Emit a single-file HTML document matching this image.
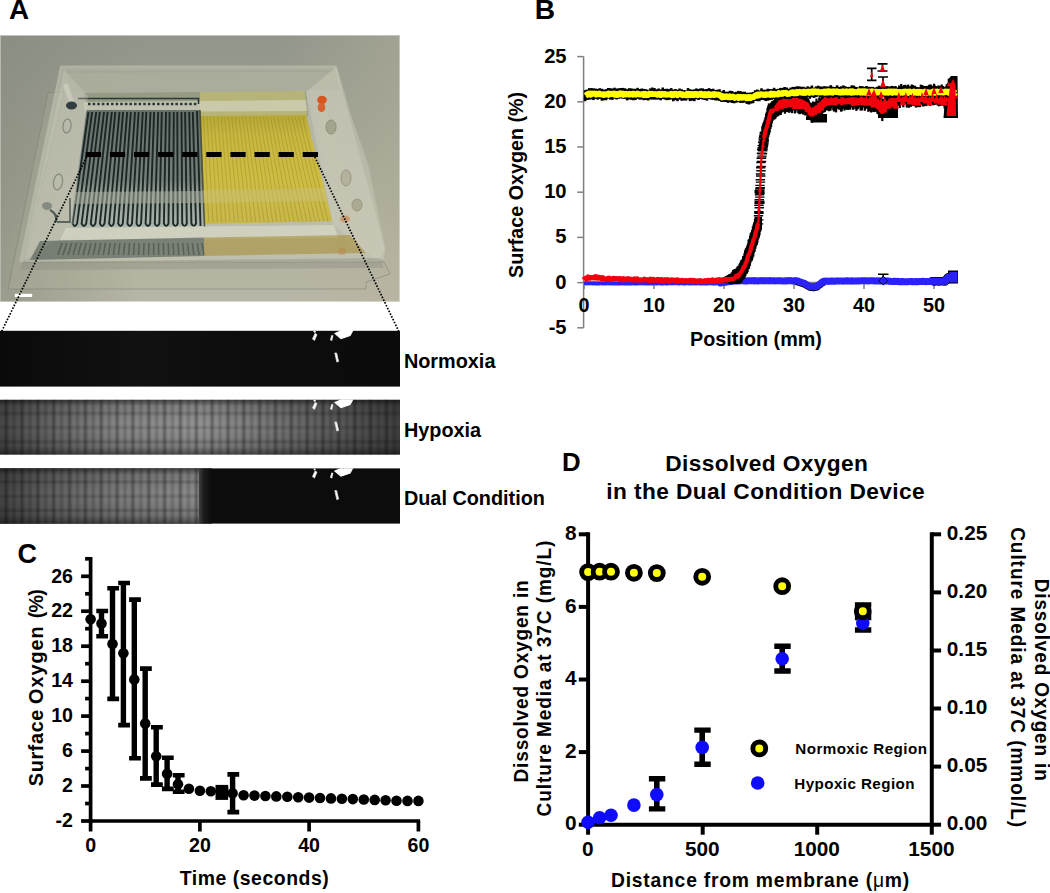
<!DOCTYPE html>
<html><head><meta charset="utf-8"><title>Figure</title>
<style>
html,body{margin:0;padding:0;background:#fff;}
body{width:1050px;height:893px;overflow:hidden;font-family:"Liberation Sans",sans-serif;}
svg{display:block;position:absolute;left:0;top:0;}
text{font-family:"Liberation Sans",sans-serif;font-weight:bold;}
</style></head><body>
<svg width="1050" height="893" viewBox="0 0 1050 893">
<defs>
<clipPath id="pc"><rect x="0" y="35" width="399.5" height="266.5"/></clipPath>
<filter id="bl" x="-5%" y="-5%" width="110%" height="110%"><feGaussianBlur stdDeviation="0.65"/></filter>
<filter id="bl2" x="-10%" y="-10%" width="120%" height="120%"><feGaussianBlur stdDeviation="2.2"/></filter>
<filter id="bl3" x="-20%" y="-20%" width="140%" height="140%"><feGaussianBlur stdDeviation="5"/></filter>
<linearGradient id="pbg" x1="0" y1="0" x2="0" y2="1">
<stop offset="0" stop-color="#92968a"/><stop offset="0.3" stop-color="#9b9e91"/><stop offset="0.6" stop-color="#a8a999"/><stop offset="0.85" stop-color="#b4b3a2"/><stop offset="1" stop-color="#b8b6a5"/></linearGradient>
<linearGradient id="pbgx" x1="0" y1="0" x2="1" y2="0">
<stop offset="0" stop-color="#868a7b" stop-opacity="0.6"/><stop offset="0.35" stop-color="#868a7b" stop-opacity="0"/><stop offset="0.7" stop-color="#b8b49c" stop-opacity="0"/><stop offset="1" stop-color="#b8b49c" stop-opacity="0.4"/></linearGradient>
<linearGradient id="blg" x1="0" y1="0" x2="0" y2="1">
<stop offset="0" stop-color="#66706c"/><stop offset="0.6" stop-color="#75807b"/><stop offset="0.72" stop-color="#99a39b"/><stop offset="0.8" stop-color="#99a39b"/><stop offset="0.85" stop-color="#9fa9a2"/><stop offset="1" stop-color="#adb6ae"/></linearGradient>
<linearGradient id="ylg" x1="0" y1="0" x2="0" y2="1">
<stop offset="0" stop-color="#b6a838"/><stop offset="0.2" stop-color="#c9b840"/><stop offset="0.6" stop-color="#cfbe44"/><stop offset="1" stop-color="#c8b84c"/></linearGradient>
</defs>
<g clip-path="url(#pc)">
<rect x="0" y="35" width="400" height="267" fill="url(#pbg)"/>
<rect x="0" y="35" width="400" height="267" fill="url(#pbgx)"/>
<g filter="url(#bl)">
<polygon points="48,93 64,92 24,262 384,262 390,274 366,282 366,289 8,289" fill="#b4b3a0" fill-opacity="0.25" stroke="#7f8072" stroke-opacity="0.55" stroke-width="1"/>
<polygon points="61,66.5 336,66.5 350,115 367.5,165 385,249 384,258 378,262 20,262" fill="#d0d1c0" fill-opacity="0.4"/>
<polyline points="20,262 61,66.5 336,66.5 350,115 367.5,165 385,249" fill="none" stroke="#b9bba9" stroke-opacity="0.7" stroke-width="2"/>
<polyline points="66,72 334,71" fill="none" stroke="#7d8074" stroke-opacity="0.5" stroke-width="1.5"/>
<polygon points="63,69 335,68.5 340,90 68,93" fill="#a9ab99" fill-opacity="0.75"/>
<polygon points="84,93 306,91 308,116 200,116 200,110 86,110" fill="#959b84"/>
<polygon points="200,92 305,91 307,117 200,117" fill="#bdb878" fill-opacity="0.85"/>
<polygon points="84,102 306,100 307,111 85,112" fill="#d2d3c0" fill-opacity="0.7"/>
<path d="M78,98.5H198.5V104" stroke="#2d3838" stroke-width="1.6" fill="none"/>
<path d="M88,104H197" stroke="#2d3838" stroke-width="2.4" stroke-dasharray="2.6 2" fill="none"/>
<polygon points="86.5,110 200,110 204.5,226.5 70,227.5" fill="url(#blg)"/>
<path d="M88.5,112L72.5,223.5Q74.8,228.5 77.1,223.5L92.1,112M96.2,112L81.6,223.5Q83.9,228.5 86.2,223.5L99.8,112M104.0,112L90.8,223.5Q93.1,228.5 95.4,223.5L107.6,112M111.8,112L99.9,223.5Q102.2,228.5 104.5,223.5L115.3,112M119.5,112L109.1,223.5Q111.4,228.5 113.7,223.5L123.1,112M127.2,112L118.2,223.5Q120.5,228.5 122.8,223.5L130.8,112M135.0,112L127.4,223.5Q129.7,228.5 132.0,223.5L138.6,112M142.8,112L136.5,223.5Q138.8,228.5 141.1,223.5L146.3,112M150.5,112L145.6,223.5Q147.9,228.5 150.2,223.5L154.1,112M158.2,112L154.8,223.5Q157.1,228.5 159.4,223.5L161.8,112M166.0,112L163.9,223.5Q166.2,228.5 168.5,223.5L169.6,112M173.8,112L173.1,223.5Q175.4,228.5 177.7,223.5L177.3,112M181.5,112L182.2,223.5Q184.5,228.5 186.8,223.5L185.1,112M189.2,112L191.4,223.5Q193.7,228.5 196.0,223.5L192.8,112M197.0,111L200.5,226" stroke="#17221f" stroke-width="1.9" stroke-opacity="0.95" fill="none"/>
<polygon points="200,116 306,115 332.5,221 204.5,224" fill="url(#ylg)"/>
<path d="M203.5,117L208.8,222M207.1,117L213.0,222M210.6,117L217.3,222M214.1,117L221.6,222M217.7,117L225.8,222M221.2,117L230.1,222M224.7,117L234.4,222M228.3,117L238.6,222M231.8,117L242.9,222M235.3,117L247.2,222M238.9,117L251.4,222M242.4,117L255.7,222M245.9,117L260.0,222M249.5,117L264.2,222M253.0,117L268.5,222M256.5,117L272.8,222M260.1,117L277.0,222M263.6,117L281.3,222M267.1,117L285.6,222M270.7,117L289.8,222M274.2,117L294.1,222M277.7,117L298.4,222M281.3,117L302.6,222M284.8,117L306.9,222M288.3,117L311.2,222M291.9,117L315.4,222M295.4,117L319.7,222M298.9,117L324.0,222M302.5,117L328.2,222" stroke="#8f7c1e" stroke-width="1.1" stroke-opacity="0.35" fill="none"/>
<path d="M200,110L204.5,227" stroke="#3a4030" stroke-width="1.6" stroke-opacity="0.8"/>
<polygon points="76,192 203,191 203.5,203 74.5,204" fill="#a4aa9a" fill-opacity="0.55"/>
<polygon points="203,190 325,188 328,201 203.5,203" fill="#c9bf78" fill-opacity="0.5"/>
<polygon points="64,70 88,96 72,232 24,260" fill="#d0d0c0" fill-opacity="0.3"/>
<ellipse cx="67" cy="126" rx="4" ry="7" fill="none" stroke="#868a7c" stroke-width="1.2" transform="rotate(8 67 126)"/>
<ellipse cx="58" cy="182" rx="4.5" ry="8" fill="none" stroke="#868a7c" stroke-width="1.2" transform="rotate(10 58 182)"/>
<polygon points="306,92 336,67 385,249 378,262 333,224" fill="#d4d3c2" fill-opacity="0.4"/>
<polygon points="312,112 324,102 368,245 350,250" fill="#c8c7b2" fill-opacity="0.35"/>
<ellipse cx="331" cy="127" rx="5" ry="7" fill="#a4a38c" stroke="#8f8e7a" stroke-width="1"/>
<ellipse cx="346" cy="178" rx="5" ry="8" fill="#b4b29c" stroke="#97957f" stroke-width="1"/>
<ellipse cx="357" cy="205" rx="5" ry="6" fill="#adaa92" stroke="#97957f" stroke-width="1"/>
<ellipse cx="322" cy="100" rx="4.8" ry="4.2" fill="#d8551f"/><ellipse cx="321.5" cy="107.5" rx="3.8" ry="4.5" fill="#d6642e"/>
<ellipse cx="345" cy="219" rx="5" ry="3.5" fill="#c98a58" fill-opacity="0.7"/><ellipse cx="342" cy="251" rx="4" ry="4" fill="#c9906a" fill-opacity="0.6"/>
<path d="M66,86L72,103" stroke="#c6c8b8" stroke-width="5" stroke-linecap="round"/>
<ellipse cx="71.5" cy="105.5" rx="5.5" ry="4" fill="#323c40"/>
<ellipse cx="47" cy="206" rx="5" ry="4" fill="#858b80"/>
<path d="M50,210Q58,214 56,222" stroke="#4b5a54" stroke-width="2.2" fill="none"/>
<path d="M57,222H70V198" stroke="#3f4a48" stroke-width="1.3" fill="none"/>
<polygon points="66,228 334,225 338,238 60,240" fill="#d8d9c8" fill-opacity="0.7"/>
<polygon points="40,241 204,237.5 204,256 30,260" fill="#5c665e" fill-opacity="0.7"/>
<polygon points="204,237.5 350,235 366,253 204,256" fill="#a8903c" fill-opacity="0.6"/>
<path d="M62.0,243L58.0,255M66.8,243L63.0,255M71.7,243L68.1,255M76.5,243L73.1,255M81.3,243L78.1,255M86.1,243L83.2,255M91.0,243L88.2,255M95.8,243L93.2,255M100.6,243L98.3,255M105.4,243L103.3,255M110.3,243L108.3,255M115.1,243L113.4,255M119.9,243L118.4,255M124.8,243L123.4,255M129.6,243L128.5,255M134.4,243L133.5,255M139.2,243L138.6,255M144.1,243L143.6,255M148.9,243L148.6,255M153.7,243L153.7,255M158.6,243L158.7,255M163.4,243L163.7,255M168.2,243L168.8,255M173.0,243L173.8,255M177.9,243L178.8,255M182.7,243L183.9,255M187.5,243L188.9,255M192.3,243L193.9,255M197.2,243L199.0,255M202.0,243L204.0,255" stroke="#2c3834" stroke-width="1.5" stroke-opacity="0.45" fill="none"/>
<polygon points="22,262 380,258 384,268 20,270" fill="#8b8d80" fill-opacity="0.4"/>
</g>
<rect x="0" y="35" width="400" height="1" fill="#c4c4be"/><rect x="0" y="35" width="1" height="267" fill="#b8b8b0"/>
</g>
<path d="M85.8,154.5H318.2" stroke="#000" stroke-width="5" stroke-dasharray="15.25 8.85" fill="none"/>
<rect x="14.8" y="293.8" width="17.4" height="3.2" fill="#fff"/>
<path d="M86.6,157L1.6,331.5M314.8,157L398.6,331" stroke="#000" stroke-width="1.7" stroke-dasharray="1.6 1.5" fill="none"/>
<text x="403.9" y="367.6" font-size="19.85" text-anchor="start" fill="#000" >Normoxia</text>
<text x="403.9" y="437.3" font-size="19.85" text-anchor="start" fill="#000" >Hypoxia</text>
<text x="403.9" y="504.5" font-size="19.85" text-anchor="start" fill="#000" >Dual Condition</text>
<defs>
<filter id="bls" x="-5%" y="-5%" width="110%" height="110%"><feGaussianBlur stdDeviation="1.1"/></filter>
<linearGradient id="hg" x1="0" y1="0" x2="1" y2="0">
<stop offset="0" stop-color="#484848"/><stop offset="0.12" stop-color="#666"/><stop offset="0.3" stop-color="#8a8a8a"/><stop offset="0.5" stop-color="#969696"/><stop offset="0.65" stop-color="#7e7e7e"/><stop offset="0.8" stop-color="#626262"/><stop offset="1" stop-color="#404040"/></linearGradient>
<linearGradient id="dg" x1="0" y1="0" x2="1" y2="0">
<stop offset="0" stop-color="#444"/><stop offset="0.25" stop-color="#626262"/><stop offset="0.6" stop-color="#7e7e7e"/><stop offset="1" stop-color="#8e8e8e"/></linearGradient>
<linearGradient id="vg" x1="0" y1="0" x2="0" y2="1">
<stop offset="0" stop-color="#000" stop-opacity="0.55"/><stop offset="0.12" stop-color="#000" stop-opacity="0.12"/><stop offset="0.5" stop-color="#000" stop-opacity="0"/><stop offset="0.85" stop-color="#000" stop-opacity="0.15"/><stop offset="1" stop-color="#000" stop-opacity="0.5"/></linearGradient>
<linearGradient id="ng" x1="0" y1="0" x2="1" y2="0">
<stop offset="0" stop-color="#0a0a0a"/><stop offset="0.35" stop-color="#111"/><stop offset="0.6" stop-color="#0d0d0d"/><stop offset="1" stop-color="#0b0b0b"/></linearGradient>
<linearGradient id="dk" x1="0" y1="0" x2="1" y2="0"><stop offset="0" stop-color="#484848"/><stop offset="0.4" stop-color="#1c1c1c"/><stop offset="1" stop-color="#0c0c0c"/></linearGradient>
<g id="blobs" filter="url(#bl)"><path d="M335,2.5l9,-4l9,0.5l-3,5.5l-9,3z" fill="#fff" stroke="#fff" stroke-width="1.2"/><path d="M312.5,8l2.5,-5.5l2,1l-2.5,6z" fill="#fff" stroke="#ddd" stroke-width="0.8"/><path d="M330,9l1.5,-5l1.8,0.5l-1.2,5.5z" fill="#eee"/><path d="M313,0l3,0l-1,2.5z" fill="#eee"/><path d="M334.8,22l1.8,0l2,8.5l-1.8,0.5z" fill="#fff" stroke="#ddd" stroke-width="0.8"/></g>
</defs>
<rect x="0" y="330.8" width="400" height="55.8" fill="url(#ng)"/>
<use href="#blobs" x="0" y="331"/>
<clipPath id="c2"><rect x="0" y="399.6" width="400" height="55.2"/></clipPath><g clip-path="url(#c2)">
<rect x="0" y="399.6" width="400" height="55.2" fill="url(#hg)"/>
<path d="M6.2,399.6v55.2M22.0,399.6v55.2M37.9,399.6v55.2M53.7,399.6v55.2M69.6,399.6v55.2M85.4,399.6v55.2M101.2,399.6v55.2M117.1,399.6v55.2M132.9,399.6v55.2M148.8,399.6v55.2M164.6,399.6v55.2M180.4,399.6v55.2M196.3,399.6v55.2M212.1,399.6v55.2M228.0,399.6v55.2M243.8,399.6v55.2M259.6,399.6v55.2M275.5,399.6v55.2M291.3,399.6v55.2M307.2,399.6v55.2M323.0,399.6v55.2M338.8,399.6v55.2M354.7,399.6v55.2M370.5,399.6v55.2M386.4,399.6v55.2" stroke="#000" stroke-opacity="0.42" stroke-width="2.4" fill="none" filter="url(#bls)"/><path d="M14.1,399.6v55.2M30.0,399.6v55.2M45.8,399.6v55.2M61.6,399.6v55.2M77.5,399.6v55.2M93.3,399.6v55.2M109.2,399.6v55.2M125.0,399.6v55.2M140.8,399.6v55.2M156.7,399.6v55.2M172.5,399.6v55.2M188.4,399.6v55.2M204.2,399.6v55.2M220.0,399.6v55.2M235.9,399.6v55.2M251.7,399.6v55.2M267.6,399.6v55.2M283.4,399.6v55.2M299.2,399.6v55.2M315.1,399.6v55.2M330.9,399.6v55.2M346.8,399.6v55.2M362.6,399.6v55.2M378.4,399.6v55.2M394.3,399.6v55.2" stroke="#000" stroke-opacity="0.26" stroke-width="2.2" fill="none" filter="url(#bls)"/><path d="M0,413.4H400M0,427.6H400M0,441.8H400" stroke="#000" stroke-opacity="0.25" stroke-width="2" fill="none" filter="url(#bls)"/>
<rect x="0" y="399.6" width="400" height="55.2" fill="url(#vg)"/>
<use href="#blobs" x="0" y="400"/></g>
<clipPath id="c3"><rect x="0" y="468.2" width="400" height="55.6"/></clipPath><g clip-path="url(#c3)">
<rect x="0" y="468.2" width="400" height="55.6" fill="#0c0c0c"/>
<rect x="198" y="468.2" width="14" height="55.6" fill="url(#dk)"/>
<rect x="0" y="468.2" width="199" height="55.6" fill="url(#dg)"/>
<path d="M6.2,468.2v55.6M22.0,468.2v55.6M37.9,468.2v55.6M53.7,468.2v55.6M69.6,468.2v55.6M85.4,468.2v55.6M101.2,468.2v55.6M117.1,468.2v55.6M132.9,468.2v55.6M148.8,468.2v55.6M164.6,468.2v55.6M180.4,468.2v55.6M196.3,468.2v55.6" stroke="#000" stroke-opacity="0.42" stroke-width="2.4" fill="none" filter="url(#bls)"/><path d="M14.1,468.2v55.6M30.0,468.2v55.6M45.8,468.2v55.6M61.6,468.2v55.6M77.5,468.2v55.6M93.3,468.2v55.6M109.2,468.2v55.6M125.0,468.2v55.6M140.8,468.2v55.6M156.7,468.2v55.6M172.5,468.2v55.6M188.4,468.2v55.6" stroke="#000" stroke-opacity="0.26" stroke-width="2.2" fill="none" filter="url(#bls)"/><path d="M0,482.0H199M0,496.2H199M0,510.4H199" stroke="#000" stroke-opacity="0.25" stroke-width="2" fill="none" filter="url(#bls)"/>
<rect x="0" y="468.2" width="199" height="55.6" fill="url(#vg)"/>
<use href="#blobs" x="0" y="468.6"/></g>
<g stroke="#7f7f7f" stroke-width="1.5" fill="none">
<line x1="583.6" y1="56.6" x2="583.6" y2="327.8"/>
<line x1="584" y1="282.6" x2="955" y2="282.6"/>
<line x1="577.3" y1="327.8" x2="583.6" y2="327.8"/>
<line x1="577.3" y1="282.6" x2="583.6" y2="282.6"/>
<line x1="577.3" y1="237.4" x2="583.6" y2="237.4"/>
<line x1="577.3" y1="192.2" x2="583.6" y2="192.2"/>
<line x1="577.3" y1="147.0" x2="583.6" y2="147.0"/>
<line x1="577.3" y1="101.8" x2="583.6" y2="101.8"/>
<line x1="577.3" y1="56.6" x2="583.6" y2="56.6"/>
<line x1="584.0" y1="282.6" x2="584.0" y2="289.1"/>
<line x1="654.0" y1="282.6" x2="654.0" y2="289.1"/>
<line x1="724.0" y1="282.6" x2="724.0" y2="289.1"/>
<line x1="794.0" y1="282.6" x2="794.0" y2="289.1"/>
<line x1="864.0" y1="282.6" x2="864.0" y2="289.1"/>
<line x1="934.0" y1="282.6" x2="934.0" y2="289.1"/>
</g>
<text x="566.6" y="333.8" font-size="20.2" text-anchor="end" fill="#000" >-5</text>
<text x="566.6" y="288.6" font-size="20.2" text-anchor="end" fill="#000" >0</text>
<text x="566.6" y="243.4" font-size="20.2" text-anchor="end" fill="#000" >5</text>
<text x="566.6" y="198.2" font-size="20.2" text-anchor="end" fill="#000" >10</text>
<text x="566.6" y="153.0" font-size="20.2" text-anchor="end" fill="#000" >15</text>
<text x="566.6" y="107.8" font-size="20.2" text-anchor="end" fill="#000" >20</text>
<text x="566.6" y="62.6" font-size="20.2" text-anchor="end" fill="#000" >25</text>
<text x="584.0" y="312.1" font-size="19.8" text-anchor="middle" fill="#000" >0</text>
<text x="654.0" y="312.1" font-size="19.8" text-anchor="middle" fill="#000" >10</text>
<text x="724.0" y="312.1" font-size="19.8" text-anchor="middle" fill="#000" >20</text>
<text x="794.0" y="312.1" font-size="19.8" text-anchor="middle" fill="#000" >30</text>
<text x="864.0" y="312.1" font-size="19.8" text-anchor="middle" fill="#000" >40</text>
<text x="934.0" y="312.1" font-size="19.8" text-anchor="middle" fill="#000" >50</text>
<text x="756" y="345.8" font-size="19.8" text-anchor="middle" fill="#000" >Position (mm)</text>
<text transform="translate(522.8,185) rotate(-90)" font-size="19.7" text-anchor="middle">Surface Oxygen (%)</text>
<polyline points="931.2,281.5 931.9,281.2 932.6,281.2 933.3,281.3 934.0,281.5 934.7,281.3 935.4,281.4 936.1,281.2 936.8,281.2 937.5,281.2 938.2,281.4 938.9,281.4 939.6,281.4 940.3,281.2 941.0,281.3 941.7,281.3 942.4,281.3 943.1,281.1 943.8,281.4 944.5,281.1 945.2,281.4 945.9,280.4 946.6,279.0 947.3,278.2 948.0,277.3 948.7,277.3 949.4,277.1 950.1,276.9 950.8,276.9 951.5,277.1 952.2,276.8 952.9,276.9 953.6,276.7 954.3,276.8 955.0,276.9" fill="none" stroke="#000" stroke-width="8.5" stroke-linejoin="round" />
<rect x="948" y="270.5" width="10" height="13" fill="#000"/>
<polyline points="796.1,281.4 796.8,281.7 797.5,281.8 798.2,281.8 798.9,282.3 799.6,282.4 800.3,282.7 801.0,283.1 801.7,283.4 802.4,283.4 803.1,283.7 803.8,284.0 804.5,284.2 805.2,284.6 805.9,285.0 806.6,285.6 807.3,285.7 808.0,286.3 808.7,286.7 809.4,286.9 810.1,287.4 810.8,287.5 811.5,287.5 812.2,287.3 812.9,287.7 813.6,287.6 814.3,287.7 815.0,287.3 815.7,287.4 816.4,287.3 817.1,287.0 817.8,286.3 818.5,285.7 819.2,285.3 819.9,284.9 820.6,284.3 821.3,283.6 822.0,283.0 822.7,282.8 823.4,282.1 824.1,282.1 824.8,281.9 825.5,281.8" fill="none" stroke="#000" stroke-width="7.0" stroke-linejoin="round" />
<path d="M878,274.3h10.5M883.2,274.3v5" stroke="#000" stroke-width="1.6" fill="none"/>
<polyline points="584.0,283.3 584.7,283.2 585.4,283.4 586.1,283.2 586.8,283.4 587.5,283.3 588.2,283.2 588.9,283.4 589.6,283.2 590.3,283.3 591.0,283.2 591.7,283.2 592.4,283.3 593.1,283.5 593.8,283.2 594.5,283.3 595.2,283.4 595.9,283.6 596.6,283.4 597.3,283.3 598.0,283.6 598.7,283.2 599.4,283.5 600.1,283.3 600.8,283.2 601.5,283.2 602.2,283.3 602.9,283.5 603.6,283.2 604.3,283.4 605.0,283.4 605.7,283.3 606.4,283.4 607.1,283.2 607.8,283.2 608.5,283.3 609.2,283.4 609.9,283.3 610.6,283.3 611.3,283.4 612.0,283.4 612.7,283.3 613.4,283.5 614.1,283.5 614.8,283.3 615.5,283.4 616.2,283.4 616.9,283.5 617.6,283.5 618.3,283.3 619.0,283.6 619.7,283.2 620.4,283.3 621.1,283.5 621.8,283.2 622.5,283.4 623.2,283.2 623.9,283.4 624.6,283.5 625.3,283.4 626.0,283.5 626.7,283.3 627.4,283.4 628.1,283.4 628.8,283.4 629.5,283.4 630.2,283.5 630.9,283.5 631.6,283.4 632.3,283.4 633.0,283.2 633.7,283.5 634.4,283.4 635.1,283.6 635.8,283.5 636.5,283.3 637.2,283.3 637.9,283.4 638.6,283.2 639.3,283.4 640.0,283.2 640.7,283.2 641.4,283.2 642.1,283.5 642.8,283.2 643.5,283.3 644.2,283.3 644.9,283.5 645.6,283.2 646.3,283.4 647.0,283.4 647.7,283.5 648.4,283.5 649.1,283.5 649.8,283.3 650.5,283.3 651.2,283.3 651.9,283.5 652.6,283.6 653.3,283.2 654.0,283.2 654.7,283.3 655.4,283.3 656.1,283.4 656.8,283.4 657.5,283.3 658.2,283.2 658.9,283.3 659.6,283.3 660.3,283.4 661.0,283.6 661.7,283.4 662.4,283.4 663.1,283.4 663.8,283.4 664.5,283.2 665.2,283.5 665.9,283.5 666.6,283.5 667.3,283.5 668.0,283.3 668.7,283.3 669.4,283.2 670.1,283.4 670.8,283.2 671.5,283.2 672.2,283.3 672.9,283.2 673.6,283.3 674.3,283.2 675.0,283.2 675.7,283.2 676.4,283.2 677.1,283.3 677.8,283.2 678.5,283.5 679.2,283.4 679.9,283.2 680.6,283.3 681.3,283.3 682.0,283.3 682.7,283.2 683.4,283.5 684.1,283.6 684.8,283.4 685.5,283.4 686.2,283.2 686.9,283.2 687.6,283.3 688.3,283.3 689.0,283.5 689.7,283.2 690.4,283.2 691.1,283.6 691.8,283.4 692.5,283.2 693.2,283.4 693.9,283.2 694.6,283.4 695.3,283.6 696.0,283.5 696.7,283.4 697.4,283.3 698.1,283.3 698.8,283.2 699.5,283.5 700.2,283.4 700.9,283.5 701.6,283.3 702.3,283.3 703.0,283.5 703.7,283.6 704.4,283.5 705.1,283.5 705.8,283.5 706.5,283.5 707.2,283.3 707.9,283.4 708.6,283.3 709.3,283.2 710.0,283.2 710.7,283.3 711.4,283.3 712.1,283.4 712.8,283.6 713.5,283.4 714.2,283.5 714.9,283.6 715.6,283.6 716.3,283.3 717.0,283.3 717.7,283.3 718.4,283.2 719.1,283.3 719.8,283.4 720.5,283.5 721.2,283.4 721.9,283.2" fill="none" stroke="#2b22fa" stroke-width="4.0" stroke-linejoin="round" />
<polyline points="718.4,282.7 719.1,282.8 719.8,282.9 720.5,283.0 721.2,282.9 721.9,282.7 722.6,282.6 723.3,282.6 724.0,282.2 724.7,282.3 725.4,282.3 726.1,282.2 726.8,282.0 727.5,281.8 728.2,281.6 728.9,281.7 729.6,281.5 730.3,281.5 731.0,281.5 731.7,281.2 732.4,281.1 733.1,281.2 733.8,281.0 734.5,280.7 735.2,280.6 735.9,280.7 736.6,281.0 737.3,280.9 738.0,280.7 738.7,280.9 739.4,281.0 740.1,280.9 740.8,280.7 741.5,280.8 742.2,280.6 742.9,280.6 743.6,281.0 744.3,280.9 745.0,280.8 745.7,281.0 746.4,280.8 747.1,280.9 747.8,280.9 748.5,280.7 749.2,280.7 749.9,280.7 750.6,280.7 751.3,280.8 752.0,280.7 752.7,280.8 753.4,280.6 754.1,281.0 754.8,280.7 755.5,280.8 756.2,280.8 756.9,281.0 757.6,280.8 758.3,281.0 759.0,280.8 759.7,280.8 760.4,280.8 761.1,280.6 761.8,280.8 762.5,280.7 763.2,280.6 763.9,280.9 764.6,280.7 765.3,280.8 766.0,280.9 766.7,280.8 767.4,280.7 768.1,280.8 768.8,280.8 769.5,280.9 770.2,280.6 770.9,280.8 771.6,280.7 772.3,280.7 773.0,280.9 773.7,280.8 774.4,280.8 775.1,280.9 775.8,281.0 776.5,280.8 777.2,280.8 777.9,280.8 778.6,280.8 779.3,280.9 780.0,280.8 780.7,280.8 781.4,280.8 782.1,281.0 782.8,280.9 783.5,280.9 784.2,281.0 784.9,280.7 785.6,280.8 786.3,281.0 787.0,280.9 787.7,280.6 788.4,280.6 789.1,280.8 789.8,280.6 790.5,280.7 791.2,280.6 791.9,280.9 792.6,280.9 793.3,281.0 794.0,280.7 794.7,280.9 795.4,280.9 796.1,280.6 796.8,280.9 797.5,281.0 798.2,281.0 798.9,281.5 799.6,281.6 800.3,281.9 801.0,282.3 801.7,282.6 802.4,282.6 803.1,282.9 803.8,283.2 804.5,283.4 805.2,283.8 805.9,284.2 806.6,284.8 807.3,284.9 808.0,285.5 808.7,285.9 809.4,286.1 810.1,286.6 810.8,286.7 811.5,286.7 812.2,286.5 812.9,286.9 813.6,286.8 814.3,286.9 815.0,286.5 815.7,286.6 816.4,286.5 817.1,286.2 817.8,285.5 818.5,284.9 819.2,284.5 819.9,284.1 820.6,283.5 821.3,282.8 822.0,282.2 822.7,282.0 823.4,281.3 824.1,281.3 824.8,281.1 825.5,281.0 826.2,281.3 826.9,281.2 827.6,281.0 828.3,281.4 829.0,281.2 829.7,281.3 830.4,281.0 831.1,281.3 831.8,281.0 832.5,281.3 833.2,281.1 833.9,281.1 834.6,281.2 835.3,281.3 836.0,281.0 836.7,281.0 837.4,281.1 838.1,281.0 838.8,280.9 839.5,281.0 840.2,280.9 840.9,281.0 841.6,281.0 842.3,281.0 843.0,281.2 843.7,281.0 844.4,281.0 845.1,280.9 845.8,281.0 846.5,280.8 847.2,280.9 847.9,280.8 848.6,281.1 849.3,281.0 850.0,280.9 850.7,281.0 851.4,281.2 852.1,280.8 852.8,281.1 853.5,280.9 854.2,280.9 854.9,281.1 855.6,280.9 856.3,280.9 857.0,281.0 857.7,281.1 858.4,280.8 859.1,281.0 859.8,281.0 860.5,280.9 861.2,280.8 861.9,280.8 862.6,280.7 863.3,280.7 864.0,280.7 864.7,280.9 865.4,280.7 866.1,280.7 866.8,280.7 867.5,281.0 868.2,281.0 868.9,280.9 869.6,280.7 870.3,280.7 871.0,280.7 871.7,280.8 872.4,280.7 873.1,280.8 873.8,280.8 874.5,281.1 875.2,281.1 875.9,280.9 876.6,280.8 877.3,281.1 878.0,280.9 878.7,280.9 879.4,280.8 880.1,281.0 880.8,281.0 881.5,281.1 882.2,281.0 882.9,281.1 883.6,280.9 884.3,281.0 885.0,281.0 885.7,281.1 886.4,281.0 887.1,281.0 887.8,281.1 888.5,281.1 889.2,281.3 889.9,281.3 890.6,281.4 891.3,281.4 892.0,281.4 892.7,281.5 893.4,281.3 894.1,281.3 894.8,281.6 895.5,281.3 896.2,281.5 896.9,281.5 897.6,281.3 898.3,281.6 899.0,281.7 899.7,281.6 900.4,281.6 901.1,281.7 901.8,281.4 902.5,281.6 903.2,281.6 903.9,281.8 904.6,281.8 905.3,281.8 906.0,281.7 906.7,281.8 907.4,281.8 908.1,281.7 908.8,281.6 909.5,281.5 910.2,281.5 910.9,281.6 911.6,281.5 912.3,281.8 913.0,281.6 913.7,281.7 914.4,281.6 915.1,281.7 915.8,281.6 916.5,281.4 917.2,281.7 917.9,281.7 918.6,281.6 919.3,281.6 920.0,281.6 920.7,281.4 921.4,281.6 922.1,281.4 922.8,281.3 923.5,281.4 924.2,281.6 924.9,281.4 925.6,281.6 926.3,281.7 927.0,281.5 927.7,281.4 928.4,281.4 929.1,281.5 929.8,281.5 930.5,281.5 931.2,281.5 931.9,281.2 932.6,281.2 933.3,281.3 934.0,281.5 934.7,281.3 935.4,281.4 936.1,281.2 936.8,281.2 937.5,281.2 938.2,281.4 938.9,281.4 939.6,281.4 940.3,281.2 941.0,281.3 941.7,281.3 942.4,281.3 943.1,281.1 943.8,281.4 944.5,281.1 945.2,281.4 945.9,280.4 946.6,279.0 947.3,278.2 948.0,277.3 948.7,277.3 949.4,277.1 950.1,276.9 950.8,276.9 951.5,277.1 952.2,276.8 952.9,276.9 953.6,276.7 954.3,276.8 955.0,276.9" fill="none" stroke="#2b22fa" stroke-width="7.0" stroke-linejoin="round" />
<rect x="949.5" y="272" width="8" height="10.5" fill="#2b22fa"/>
<path d="M883.2,276l4.5,5l-4.5,4l-4.5,-4z" fill="#2b22fa" stroke="#000" stroke-width="0.8"/>
<rect x="722.4" y="277.6" width="7.5" height="3.6" fill="#000"/>
<rect x="723.0" y="278.0" width="7.5" height="4.2" fill="#000"/>
<rect x="723.8" y="277.7" width="7.5" height="4.9" fill="#000"/>
<rect x="724.5" y="276.2" width="7.5" height="5.5" fill="#000"/>
<rect x="725.1" y="276.0" width="7.5" height="6.1" fill="#000"/>
<rect x="725.9" y="276.4" width="7.5" height="6.8" fill="#000"/>
<rect x="726.5" y="275.1" width="7.5" height="7.4" fill="#000"/>
<rect x="727.2" y="275.0" width="7.5" height="8.0" fill="#000"/>
<rect x="728.0" y="274.5" width="7.5" height="8.7" fill="#000"/>
<rect x="728.6" y="274.1" width="7.5" height="9.3" fill="#000"/>
<rect x="729.4" y="273.9" width="7.5" height="9.9" fill="#000"/>
<rect x="730.0" y="273.5" width="7.5" height="10.6" fill="#000"/>
<rect x="730.8" y="272.4" width="7.5" height="11.2" fill="#000"/>
<rect x="731.5" y="271.6" width="7.5" height="11.8" fill="#000"/>
<rect x="732.1" y="269.9" width="7.5" height="12.5" fill="#000"/>
<rect x="732.9" y="270.8" width="7.5" height="13.0" fill="#000"/>
<rect x="733.5" y="269.0" width="7.5" height="13.0" fill="#000"/>
<rect x="734.2" y="270.0" width="7.5" height="13.0" fill="#000"/>
<rect x="735.0" y="269.4" width="7.5" height="13.0" fill="#000"/>
<rect x="735.6" y="267.8" width="7.5" height="13.0" fill="#000"/>
<rect x="736.4" y="266.6" width="7.5" height="13.0" fill="#000"/>
<rect x="737.0" y="266.1" width="7.5" height="13.0" fill="#000"/>
<rect x="737.8" y="265.6" width="7.5" height="13.0" fill="#000"/>
<rect x="738.5" y="263.7" width="7.5" height="13.0" fill="#000"/>
<rect x="739.1" y="262.7" width="7.5" height="13.0" fill="#000"/>
<rect x="739.9" y="260.5" width="7.5" height="13.0" fill="#000"/>
<rect x="740.5" y="260.6" width="7.5" height="13.0" fill="#000"/>
<rect x="741.2" y="259.2" width="7.5" height="13.0" fill="#000"/>
<rect x="742.0" y="256.2" width="7.5" height="13.0" fill="#000"/>
<rect x="742.6" y="255.7" width="7.5" height="13.0" fill="#000"/>
<rect x="743.4" y="253.0" width="7.5" height="13.0" fill="#000"/>
<rect x="744.0" y="250.2" width="7.5" height="13.0" fill="#000"/>
<rect x="744.8" y="248.3" width="7.5" height="13.0" fill="#000"/>
<rect x="745.5" y="247.6" width="7.5" height="13.0" fill="#000"/>
<rect x="746.1" y="245.6" width="7.5" height="13.0" fill="#000"/>
<rect x="746.9" y="243.5" width="7.5" height="13.0" fill="#000"/>
<rect x="747.5" y="239.8" width="7.5" height="13.0" fill="#000"/>
<rect x="748.2" y="238.8" width="7.5" height="13.0" fill="#000"/>
<rect x="749.0" y="235.7" width="7.5" height="13.0" fill="#000"/>
<rect x="749.6" y="233.2" width="7.5" height="13.0" fill="#000"/>
<rect x="750.4" y="232.0" width="7.5" height="13.0" fill="#000"/>
<rect x="751.0" y="229.9" width="7.5" height="13.0" fill="#000"/>
<rect x="751.8" y="226.4" width="7.5" height="13.0" fill="#000"/>
<rect x="752.5" y="224.4" width="7.5" height="13.0" fill="#000"/>
<rect x="753.1" y="222.3" width="7.5" height="13.0" fill="#000"/>
<rect x="753.9" y="218.7" width="7.5" height="13.0" fill="#000"/>
<rect x="754.5" y="216.8" width="7.5" height="13.0" fill="#000"/>
<rect x="761.4" y="126.2" width="6.5" height="15.4" fill="#000"/>
<rect x="761.7" y="126.1" width="6.5" height="15.4" fill="#000"/>
<rect x="761.9" y="125.1" width="6.5" height="15.4" fill="#000"/>
<rect x="762.2" y="123.2" width="6.5" height="15.4" fill="#000"/>
<rect x="762.9" y="121.7" width="6.5" height="15.4" fill="#000"/>
<rect x="763.6" y="119.5" width="6.5" height="15.4" fill="#000"/>
<rect x="764.3" y="117.1" width="6.5" height="15.4" fill="#000"/>
<rect x="765.0" y="113.7" width="6.5" height="15.4" fill="#000"/>
<rect x="765.7" y="111.7" width="6.5" height="15.4" fill="#000"/>
<rect x="766.4" y="108.0" width="6.5" height="15.4" fill="#000"/>
<rect x="767.1" y="105.7" width="6.5" height="15.4" fill="#000"/>
<rect x="767.8" y="103.4" width="6.5" height="15.4" fill="#000"/>
<rect x="768.5" y="104.1" width="6.5" height="15.4" fill="#000"/>
<rect x="769.2" y="103.9" width="6.5" height="15.4" fill="#000"/>
<rect x="769.9" y="103.3" width="6.5" height="15.4" fill="#000"/>
<rect x="770.6" y="102.0" width="6.5" height="15.4" fill="#000"/>
<rect x="771.3" y="101.0" width="6.5" height="15.4" fill="#000"/>
<rect x="772.0" y="100.9" width="6.5" height="15.4" fill="#000"/>
<rect x="772.7" y="100.7" width="6.5" height="15.4" fill="#000"/>
<rect x="773.4" y="99.9" width="6.5" height="15.4" fill="#000"/>
<rect x="774.1" y="98.9" width="6.5" height="15.4" fill="#000"/>
<rect x="774.8" y="98.2" width="6.5" height="15.4" fill="#000"/>
<rect x="775.5" y="97.5" width="6.5" height="15.4" fill="#000"/>
<rect x="776.2" y="96.8" width="6.5" height="15.4" fill="#000"/>
<rect x="779.0" y="95.5" width="2.2" height="16.4" fill="#000"/>
<rect x="779.7" y="97.0" width="2.2" height="18.0" fill="#000"/>
<rect x="780.4" y="92.7" width="2.2" height="18.0" fill="#000"/>
<rect x="781.1" y="96.1" width="2.2" height="16.3" fill="#000"/>
<rect x="781.8" y="93.2" width="2.2" height="18.2" fill="#000"/>
<rect x="782.5" y="94.2" width="2.2" height="17.5" fill="#000"/>
<rect x="783.2" y="93.0" width="2.2" height="16.0" fill="#000"/>
<rect x="783.9" y="94.1" width="2.2" height="19.6" fill="#000"/>
<rect x="784.6" y="95.5" width="2.2" height="16.5" fill="#000"/>
<rect x="785.3" y="95.7" width="2.2" height="16.0" fill="#000"/>
<rect x="786.0" y="96.3" width="2.2" height="15.8" fill="#000"/>
<rect x="786.7" y="91.2" width="2.2" height="18.3" fill="#000"/>
<rect x="787.4" y="92.3" width="2.2" height="19.3" fill="#000"/>
<rect x="788.1" y="93.9" width="2.2" height="18.9" fill="#000"/>
<rect x="788.8" y="94.4" width="2.2" height="17.2" fill="#000"/>
<rect x="789.5" y="91.5" width="2.2" height="16.6" fill="#000"/>
<rect x="790.2" y="94.8" width="2.2" height="15.4" fill="#000"/>
<rect x="790.9" y="94.8" width="2.2" height="18.3" fill="#000"/>
<rect x="791.6" y="91.9" width="2.2" height="17.9" fill="#000"/>
<rect x="792.3" y="93.3" width="2.2" height="17.0" fill="#000"/>
<rect x="793.0" y="90.8" width="2.2" height="18.3" fill="#000"/>
<rect x="793.7" y="96.1" width="2.2" height="17.4" fill="#000"/>
<rect x="794.4" y="93.0" width="2.2" height="19.6" fill="#000"/>
<rect x="795.1" y="91.6" width="2.2" height="18.7" fill="#000"/>
<rect x="795.8" y="92.6" width="2.2" height="16.5" fill="#000"/>
<rect x="796.5" y="90.8" width="2.2" height="19.5" fill="#000"/>
<rect x="797.2" y="97.7" width="2.2" height="15.6" fill="#000"/>
<rect x="797.9" y="95.5" width="2.2" height="17.8" fill="#000"/>
<rect x="798.6" y="97.0" width="2.2" height="17.2" fill="#000"/>
<rect x="799.3" y="97.3" width="2.2" height="16.4" fill="#000"/>
<rect x="800.0" y="93.7" width="2.2" height="15.6" fill="#000"/>
<rect x="800.7" y="94.5" width="2.2" height="18.9" fill="#000"/>
<rect x="801.4" y="94.6" width="2.2" height="15.4" fill="#000"/>
<rect x="802.1" y="96.7" width="2.2" height="17.9" fill="#000"/>
<rect x="802.8" y="93.4" width="2.2" height="19.6" fill="#000"/>
<rect x="803.5" y="97.8" width="2.2" height="16.0" fill="#000"/>
<rect x="804.2" y="99.2" width="2.2" height="16.3" fill="#000"/>
<rect x="804.9" y="96.1" width="2.2" height="18.1" fill="#000"/>
<rect x="805.6" y="96.0" width="2.2" height="17.7" fill="#000"/>
<rect x="806.3" y="100.8" width="2.2" height="18.3" fill="#000"/>
<rect x="807.0" y="98.3" width="2.2" height="19.0" fill="#000"/>
<rect x="807.7" y="100.2" width="2.2" height="16.2" fill="#000"/>
<rect x="808.4" y="102.7" width="2.2" height="16.8" fill="#000"/>
<rect x="809.1" y="102.5" width="2.2" height="16.7" fill="#000"/>
<rect x="809.8" y="104.8" width="2.2" height="15.6" fill="#000"/>
<rect x="810.5" y="103.2" width="2.2" height="19.4" fill="#000"/>
<rect x="811.2" y="103.6" width="2.2" height="18.9" fill="#000"/>
<rect x="811.9" y="101.4" width="2.2" height="18.6" fill="#000"/>
<rect x="812.6" y="102.3" width="2.2" height="15.4" fill="#000"/>
<rect x="813.3" y="102.3" width="2.2" height="19.2" fill="#000"/>
<rect x="814.0" y="103.2" width="2.2" height="18.7" fill="#000"/>
<rect x="814.7" y="101.6" width="2.2" height="17.5" fill="#000"/>
<rect x="815.4" y="98.6" width="2.2" height="18.7" fill="#000"/>
<rect x="816.1" y="101.5" width="2.2" height="17.4" fill="#000"/>
<rect x="816.8" y="100.9" width="2.2" height="16.4" fill="#000"/>
<rect x="817.5" y="101.3" width="2.2" height="15.8" fill="#000"/>
<rect x="818.2" y="97.3" width="2.2" height="16.4" fill="#000"/>
<rect x="818.9" y="98.3" width="2.2" height="15.5" fill="#000"/>
<rect x="819.6" y="99.5" width="2.2" height="16.9" fill="#000"/>
<rect x="820.3" y="97.6" width="2.2" height="18.8" fill="#000"/>
<rect x="821.0" y="95.4" width="2.2" height="18.5" fill="#000"/>
<rect x="821.7" y="93.5" width="2.2" height="19.2" fill="#000"/>
<rect x="822.4" y="92.5" width="2.2" height="18.6" fill="#000"/>
<rect x="823.1" y="95.8" width="2.2" height="16.6" fill="#000"/>
<rect x="823.8" y="94.0" width="2.2" height="17.9" fill="#000"/>
<rect x="824.5" y="90.7" width="2.2" height="17.3" fill="#000"/>
<rect x="825.2" y="91.4" width="2.2" height="18.9" fill="#000"/>
<rect x="825.9" y="92.7" width="2.2" height="17.7" fill="#000"/>
<rect x="826.6" y="93.1" width="2.2" height="16.6" fill="#000"/>
<rect x="827.3" y="88.7" width="2.2" height="18.3" fill="#000"/>
<rect x="828.0" y="91.5" width="2.2" height="19.7" fill="#000"/>
<rect x="828.7" y="91.8" width="2.2" height="16.3" fill="#000"/>
<rect x="829.4" y="91.4" width="2.2" height="19.3" fill="#000"/>
<rect x="830.1" y="93.0" width="2.2" height="15.4" fill="#000"/>
<rect x="830.8" y="90.0" width="2.2" height="16.5" fill="#000"/>
<rect x="831.5" y="89.3" width="2.2" height="16.4" fill="#000"/>
<rect x="832.2" y="91.5" width="2.2" height="18.7" fill="#000"/>
<rect x="832.9" y="92.0" width="2.2" height="19.6" fill="#000"/>
<rect x="833.6" y="89.5" width="2.2" height="18.7" fill="#000"/>
<rect x="834.3" y="93.3" width="2.2" height="16.8" fill="#000"/>
<rect x="835.0" y="93.1" width="2.2" height="19.3" fill="#000"/>
<rect x="835.7" y="89.4" width="2.2" height="16.9" fill="#000"/>
<rect x="836.4" y="92.2" width="2.2" height="16.4" fill="#000"/>
<rect x="837.1" y="88.5" width="2.2" height="19.5" fill="#000"/>
<rect x="837.8" y="91.4" width="2.2" height="18.2" fill="#000"/>
<rect x="838.5" y="88.6" width="2.2" height="18.5" fill="#000"/>
<rect x="839.2" y="90.9" width="2.2" height="18.4" fill="#000"/>
<rect x="839.9" y="91.8" width="2.2" height="19.8" fill="#000"/>
<rect x="840.6" y="93.8" width="2.2" height="17.5" fill="#000"/>
<rect x="841.3" y="90.0" width="2.2" height="19.2" fill="#000"/>
<rect x="842.0" y="89.8" width="2.2" height="18.5" fill="#000"/>
<rect x="842.7" y="88.0" width="2.2" height="19.2" fill="#000"/>
<rect x="843.4" y="93.3" width="2.2" height="17.3" fill="#000"/>
<rect x="844.1" y="89.8" width="2.2" height="18.6" fill="#000"/>
<rect x="844.8" y="91.5" width="2.2" height="17.9" fill="#000"/>
<rect x="845.5" y="91.3" width="2.2" height="16.8" fill="#000"/>
<rect x="846.2" y="93.4" width="2.2" height="16.3" fill="#000"/>
<rect x="846.9" y="91.7" width="2.2" height="18.2" fill="#000"/>
<rect x="847.6" y="91.7" width="2.2" height="15.7" fill="#000"/>
<rect x="848.3" y="87.6" width="2.2" height="19.5" fill="#000"/>
<rect x="849.0" y="93.7" width="2.2" height="16.0" fill="#000"/>
<rect x="849.7" y="91.9" width="2.2" height="15.5" fill="#000"/>
<rect x="850.4" y="89.9" width="2.2" height="15.9" fill="#000"/>
<rect x="851.1" y="87.2" width="2.2" height="19.6" fill="#000"/>
<rect x="851.8" y="92.7" width="2.2" height="16.9" fill="#000"/>
<rect x="852.5" y="93.5" width="2.2" height="16.0" fill="#000"/>
<rect x="853.2" y="89.3" width="2.2" height="15.5" fill="#000"/>
<rect x="853.9" y="89.0" width="2.2" height="15.6" fill="#000"/>
<rect x="854.6" y="90.2" width="2.2" height="18.5" fill="#000"/>
<rect x="855.3" y="92.7" width="2.2" height="18.2" fill="#000"/>
<rect x="856.0" y="87.8" width="2.2" height="18.5" fill="#000"/>
<rect x="856.7" y="90.6" width="2.2" height="18.7" fill="#000"/>
<rect x="857.4" y="89.3" width="2.2" height="15.7" fill="#000"/>
<rect x="858.1" y="89.6" width="2.2" height="18.0" fill="#000"/>
<rect x="858.8" y="89.0" width="2.2" height="17.0" fill="#000"/>
<rect x="859.5" y="91.5" width="2.2" height="19.1" fill="#000"/>
<rect x="860.2" y="88.1" width="2.2" height="19.1" fill="#000"/>
<rect x="860.9" y="91.0" width="2.2" height="19.4" fill="#000"/>
<rect x="861.6" y="91.8" width="2.2" height="15.7" fill="#000"/>
<rect x="862.3" y="87.6" width="2.2" height="19.3" fill="#000"/>
<rect x="863.0" y="87.6" width="2.2" height="19.5" fill="#000"/>
<rect x="863.7" y="91.2" width="2.2" height="19.6" fill="#000"/>
<rect x="864.4" y="93.1" width="2.2" height="15.9" fill="#000"/>
<rect x="865.1" y="92.1" width="2.2" height="16.3" fill="#000"/>
<rect x="865.8" y="91.8" width="2.2" height="15.9" fill="#000"/>
<rect x="866.5" y="92.9" width="2.2" height="15.5" fill="#000"/>
<rect x="867.2" y="92.6" width="2.2" height="19.2" fill="#000"/>
<rect x="867.9" y="92.2" width="2.2" height="19.0" fill="#000"/>
<rect x="868.6" y="90.2" width="2.2" height="18.2" fill="#000"/>
<rect x="869.3" y="89.0" width="2.2" height="19.1" fill="#000"/>
<rect x="870.0" y="94.3" width="2.2" height="18.2" fill="#000"/>
<rect x="870.7" y="92.4" width="2.2" height="16.7" fill="#000"/>
<rect x="871.4" y="92.0" width="2.2" height="15.8" fill="#000"/>
<rect x="872.1" y="96.1" width="2.2" height="15.8" fill="#000"/>
<rect x="872.8" y="90.4" width="2.2" height="18.8" fill="#000"/>
<rect x="873.5" y="95.8" width="2.2" height="16.3" fill="#000"/>
<rect x="874.2" y="93.6" width="2.2" height="16.8" fill="#000"/>
<rect x="874.9" y="94.3" width="2.2" height="17.3" fill="#000"/>
<rect x="875.6" y="95.5" width="2.2" height="15.5" fill="#000"/>
<rect x="876.3" y="97.3" width="2.2" height="16.5" fill="#000"/>
<rect x="877.0" y="97.3" width="2.2" height="16.6" fill="#000"/>
<rect x="877.7" y="96.1" width="2.2" height="18.6" fill="#000"/>
<rect x="878.4" y="98.4" width="2.2" height="17.0" fill="#000"/>
<rect x="879.1" y="97.9" width="2.2" height="16.8" fill="#000"/>
<rect x="879.8" y="98.2" width="2.2" height="19.7" fill="#000"/>
<rect x="880.5" y="100.0" width="2.2" height="17.6" fill="#000"/>
<rect x="881.2" y="101.9" width="2.2" height="19.2" fill="#000"/>
<rect x="881.9" y="98.6" width="2.2" height="18.2" fill="#000"/>
<rect x="882.6" y="100.0" width="2.2" height="15.5" fill="#000"/>
<rect x="883.3" y="99.9" width="2.2" height="17.2" fill="#000"/>
<rect x="884.0" y="96.3" width="2.2" height="17.3" fill="#000"/>
<rect x="884.7" y="94.8" width="2.2" height="18.9" fill="#000"/>
<rect x="885.4" y="96.9" width="2.2" height="16.9" fill="#000"/>
<rect x="886.1" y="97.0" width="2.2" height="18.6" fill="#000"/>
<rect x="886.8" y="95.1" width="2.2" height="17.8" fill="#000"/>
<rect x="887.5" y="97.2" width="2.2" height="16.3" fill="#000"/>
<rect x="888.2" y="95.0" width="2.2" height="19.3" fill="#000"/>
<rect x="888.9" y="94.4" width="2.2" height="15.8" fill="#000"/>
<rect x="889.6" y="93.9" width="2.2" height="19.1" fill="#000"/>
<rect x="890.3" y="92.7" width="2.2" height="16.1" fill="#000"/>
<rect x="891.0" y="92.0" width="2.2" height="15.4" fill="#000"/>
<rect x="891.7" y="93.4" width="2.2" height="16.3" fill="#000"/>
<rect x="892.4" y="88.2" width="2.2" height="18.8" fill="#000"/>
<rect x="893.1" y="90.0" width="2.2" height="19.8" fill="#000"/>
<rect x="893.8" y="88.0" width="2.2" height="15.4" fill="#000"/>
<rect x="894.5" y="86.1" width="2.2" height="17.6" fill="#000"/>
<rect x="895.2" y="87.5" width="2.2" height="17.6" fill="#000"/>
<rect x="895.9" y="89.3" width="2.2" height="19.0" fill="#000"/>
<rect x="896.6" y="88.3" width="2.2" height="16.2" fill="#000"/>
<rect x="897.3" y="88.2" width="2.2" height="17.6" fill="#000"/>
<rect x="898.0" y="85.5" width="2.2" height="16.9" fill="#000"/>
<rect x="898.7" y="88.8" width="2.2" height="19.1" fill="#000"/>
<rect x="899.4" y="86.2" width="2.2" height="16.5" fill="#000"/>
<rect x="900.1" y="83.9" width="2.2" height="19.6" fill="#000"/>
<rect x="900.8" y="86.8" width="2.2" height="16.7" fill="#000"/>
<rect x="901.5" y="86.5" width="2.2" height="16.3" fill="#000"/>
<rect x="902.2" y="88.8" width="2.2" height="18.5" fill="#000"/>
<rect x="902.9" y="85.0" width="2.2" height="17.6" fill="#000"/>
<rect x="903.6" y="88.5" width="2.2" height="15.9" fill="#000"/>
<rect x="904.3" y="84.8" width="2.2" height="18.2" fill="#000"/>
<rect x="905.0" y="86.3" width="2.2" height="15.7" fill="#000"/>
<rect x="905.7" y="88.7" width="2.2" height="18.9" fill="#000"/>
<rect x="906.4" y="85.6" width="2.2" height="18.5" fill="#000"/>
<rect x="907.1" y="84.6" width="2.2" height="18.9" fill="#000"/>
<rect x="907.8" y="89.6" width="2.2" height="18.2" fill="#000"/>
<rect x="908.5" y="88.7" width="2.2" height="17.0" fill="#000"/>
<rect x="909.2" y="86.4" width="2.2" height="17.2" fill="#000"/>
<rect x="909.9" y="89.7" width="2.2" height="17.2" fill="#000"/>
<rect x="910.6" y="84.5" width="2.2" height="19.4" fill="#000"/>
<rect x="911.3" y="89.7" width="2.2" height="15.8" fill="#000"/>
<rect x="912.0" y="85.0" width="2.2" height="19.4" fill="#000"/>
<rect x="912.7" y="90.6" width="2.2" height="15.5" fill="#000"/>
<rect x="913.4" y="88.2" width="2.2" height="16.3" fill="#000"/>
<rect x="914.1" y="85.8" width="2.2" height="16.6" fill="#000"/>
<rect x="914.8" y="88.2" width="2.2" height="19.4" fill="#000"/>
<rect x="915.5" y="88.8" width="2.2" height="17.6" fill="#000"/>
<rect x="916.2" y="87.8" width="2.2" height="17.1" fill="#000"/>
<rect x="916.9" y="87.7" width="2.2" height="19.4" fill="#000"/>
<rect x="917.6" y="90.7" width="2.2" height="16.4" fill="#000"/>
<rect x="918.3" y="89.4" width="2.2" height="17.5" fill="#000"/>
<rect x="919.0" y="89.3" width="2.2" height="17.8" fill="#000"/>
<rect x="919.7" y="84.6" width="2.2" height="18.8" fill="#000"/>
<rect x="920.4" y="85.9" width="2.2" height="18.8" fill="#000"/>
<rect x="921.1" y="85.0" width="2.2" height="18.3" fill="#000"/>
<rect x="921.8" y="89.6" width="2.2" height="16.9" fill="#000"/>
<rect x="922.5" y="86.2" width="2.2" height="16.8" fill="#000"/>
<rect x="923.2" y="90.2" width="2.2" height="16.1" fill="#000"/>
<rect x="923.9" y="86.4" width="2.2" height="19.2" fill="#000"/>
<rect x="924.6" y="86.2" width="2.2" height="18.4" fill="#000"/>
<rect x="925.3" y="87.4" width="2.2" height="18.7" fill="#000"/>
<rect x="926.0" y="85.9" width="2.2" height="16.1" fill="#000"/>
<rect x="926.7" y="87.0" width="2.2" height="17.4" fill="#000"/>
<rect x="927.4" y="86.1" width="2.2" height="18.9" fill="#000"/>
<rect x="928.1" y="84.8" width="2.2" height="18.0" fill="#000"/>
<rect x="928.8" y="90.0" width="2.2" height="15.9" fill="#000"/>
<rect x="929.5" y="84.4" width="2.2" height="17.5" fill="#000"/>
<rect x="930.2" y="85.4" width="2.2" height="19.4" fill="#000"/>
<rect x="930.9" y="88.1" width="2.2" height="16.4" fill="#000"/>
<rect x="931.6" y="86.0" width="2.2" height="16.2" fill="#000"/>
<rect x="932.3" y="88.6" width="2.2" height="16.7" fill="#000"/>
<rect x="933.0" y="83.7" width="2.2" height="18.5" fill="#000"/>
<rect x="933.7" y="85.6" width="2.2" height="19.2" fill="#000"/>
<rect x="934.4" y="88.3" width="2.2" height="16.1" fill="#000"/>
<rect x="935.1" y="86.1" width="2.2" height="16.1" fill="#000"/>
<rect x="935.8" y="87.6" width="2.2" height="16.5" fill="#000"/>
<rect x="936.5" y="88.8" width="2.2" height="16.8" fill="#000"/>
<rect x="937.2" y="85.5" width="2.2" height="17.7" fill="#000"/>
<rect x="937.9" y="90.2" width="2.2" height="16.1" fill="#000"/>
<rect x="938.6" y="85.8" width="2.2" height="16.9" fill="#000"/>
<rect x="939.3" y="89.4" width="2.2" height="16.2" fill="#000"/>
<rect x="940.0" y="85.7" width="2.2" height="19.8" fill="#000"/>
<rect x="940.7" y="84.5" width="2.2" height="18.7" fill="#000"/>
<rect x="941.4" y="88.3" width="2.2" height="15.8" fill="#000"/>
<rect x="942.1" y="86.1" width="2.2" height="19.7" fill="#000"/>
<rect x="942.8" y="90.1" width="2.2" height="15.8" fill="#000"/>
<rect x="943.5" y="91.3" width="2.2" height="17.1" fill="#000"/>
<rect x="944.2" y="89.7" width="2.2" height="19.8" fill="#000"/>
<rect x="944.9" y="88.1" width="2.2" height="19.0" fill="#000"/>
<rect x="945.6" y="84.3" width="2.2" height="18.7" fill="#000"/>
<rect x="946.3" y="84.5" width="2.2" height="17.3" fill="#000"/>
<rect x="947.0" y="83.2" width="2.2" height="16.3" fill="#000"/>
<rect x="947.7" y="78.7" width="2.2" height="18.3" fill="#000"/>
<rect x="948.4" y="82.6" width="2.2" height="15.9" fill="#000"/>
<rect x="949.1" y="80.9" width="2.2" height="16.3" fill="#000"/>
<rect x="949.8" y="79.4" width="2.2" height="17.1" fill="#000"/>
<rect x="950.5" y="84.9" width="2.2" height="15.5" fill="#000"/>
<rect x="951.2" y="85.5" width="2.2" height="17.2" fill="#000"/>
<rect x="951.9" y="84.0" width="2.2" height="18.9" fill="#000"/>
<rect x="952.6" y="86.9" width="2.2" height="18.5" fill="#000"/>
<rect x="953.3" y="87.2" width="2.2" height="17.6" fill="#000"/>
<path d="M753.8,215.8h9.4M753.8,223.9h9.4M754.1,211.8h9.4M754.1,219.9h9.4M754.3,205.2h9.4M754.3,213.3h9.4M754.6,199.6h9.4M754.6,207.7h9.4M754.8,194.8h9.4M754.8,203.0h9.4M755.1,189.0h9.4M755.1,197.1h9.4M755.3,185.4h9.4M755.3,193.5h9.4M755.6,179.7h9.4M755.6,187.8h9.4M755.8,174.0h9.4M755.8,182.1h9.4M756.0,167.8h9.4M756.0,176.0h9.4M756.3,162.5h9.4M756.3,170.7h9.4M756.5,158.3h9.4M756.5,166.4h9.4M756.8,153.2h9.4M756.8,161.4h9.4M757.0,149.7h9.4M757.0,157.9h9.4M757.3,148.0h9.4M757.3,156.1h9.4M757.5,145.6h9.4M757.5,153.7h9.4M757.8,145.4h9.4M757.8,153.5h9.4M758.0,142.6h9.4M758.0,150.8h9.4M758.3,141.1h9.4M758.3,149.3h9.4M758.5,139.4h9.4M758.5,147.5h9.4M758.7,137.8h9.4M758.7,146.0h9.4M759.0,136.5h9.4M759.0,144.7h9.4M759.2,135.4h9.4M759.2,143.6h9.4M759.5,133.8h9.4M759.5,142.0h9.4M759.7,132.2h9.4M759.7,140.3h9.4" stroke="#000" stroke-width="1.4" fill="none"/>
<rect x="754.5" y="190" width="10" height="3.4" fill="#000"/><rect x="754.5" y="200.5" width="10" height="3.4" fill="#000"/>
<rect x="811" y="114" width="16" height="8.5" fill="#000"/>
<rect x="806" y="117" width="8" height="3" fill="#000"/>
<path d="M943.5,118L945,100L948.5,79L951,76H957.5L958,118Z" fill="#000"/>
<rect x="878" y="107" width="20" height="11" fill="#000"/>
<polyline points="584.0,279.9 584.7,278.7 585.4,278.8 586.1,278.0 586.8,278.0 587.5,278.3 588.2,277.1 588.9,277.6 589.6,278.1 590.3,278.1 591.0,277.5 591.7,277.5 592.4,277.6 593.1,277.8 593.8,277.5 594.5,277.5 595.2,276.7 595.9,277.9 596.6,277.1 597.3,277.1 598.0,278.1 598.7,277.2 599.4,277.6 600.1,277.5 600.8,278.4 601.5,278.4 602.2,278.5 602.9,277.8 603.6,278.5 604.3,278.9 605.0,278.9 605.7,279.1 606.4,279.4 607.1,279.4 607.8,278.4 608.5,279.2 609.2,278.3 609.9,279.2 610.6,279.2 611.3,278.9 612.0,279.4 612.7,279.1 613.4,278.4 614.1,278.5 614.8,278.6 615.5,278.9 616.2,278.5 616.9,278.5 617.6,279.0 618.3,278.8 619.0,279.7 619.7,278.8 620.4,279.2 621.1,278.8 621.8,279.0 622.5,279.5 623.2,279.8 623.9,278.7 624.6,279.7 625.3,279.3 626.0,279.5 626.7,279.5 627.4,279.0 628.1,278.7 628.8,279.6 629.5,279.1 630.2,279.6 630.9,279.3 631.6,279.5 632.3,279.8 633.0,279.9 633.7,279.8 634.4,278.9 635.1,279.5 635.8,279.8 636.5,279.0 637.2,278.9 637.9,279.6 638.6,280.0 639.3,280.0 640.0,280.1 640.7,279.8 641.4,280.1 642.1,280.0 642.8,279.9 643.5,279.6 644.2,279.2 644.9,279.4 645.6,279.8 646.3,279.8 647.0,279.7 647.7,279.9 648.4,280.0 649.1,280.3 649.8,280.1 650.5,279.2 651.2,280.3 651.9,279.8 652.6,279.7 653.3,279.4 654.0,280.2 654.7,280.2 655.4,280.2 656.1,280.1 656.8,280.0 657.5,279.4 658.2,279.6 658.9,279.6 659.6,280.6 660.3,280.7 661.0,279.8 661.7,279.6 662.4,280.2 663.1,280.0 663.8,280.8 664.5,280.3 665.2,279.7 665.9,279.8 666.6,279.8 667.3,279.7 668.0,280.6 668.7,280.8 669.4,280.8 670.1,280.3 670.8,280.1 671.5,279.8 672.2,280.1 672.9,280.2 673.6,280.1 674.3,280.5 675.0,280.4 675.7,281.1 676.4,280.2 677.1,280.9 677.8,280.0 678.5,280.4 679.2,280.8 679.9,281.1 680.6,280.9 681.3,280.5 682.0,280.4 682.7,281.2 683.4,281.2 684.1,280.7 684.8,280.6 685.5,280.9 686.2,281.1 686.9,280.7 687.6,281.4 688.3,281.1 689.0,280.9 689.7,280.3 690.4,280.7 691.1,280.4 691.8,281.0 692.5,281.3 693.2,281.3 693.9,280.4 694.6,280.8 695.3,281.3 696.0,281.7 696.7,281.1 697.4,280.9 698.1,281.2 698.8,281.4 699.5,280.9 700.2,280.6 700.9,281.5 701.6,281.8 702.3,281.4 703.0,281.3 703.7,281.0 704.4,281.5 705.1,280.7 705.8,280.8 706.5,281.0 707.2,281.4 707.9,280.4 708.6,281.2 709.3,280.5 710.0,281.2 710.7,281.2 711.4,280.4 712.1,281.0 712.8,280.1 713.5,280.7 714.2,281.0 714.9,280.9 715.6,280.6 716.3,280.3 717.0,279.9 717.7,280.9 718.4,280.5 719.1,280.7 719.8,279.7 720.5,280.7 721.2,280.8 721.9,280.7 722.6,280.3 723.3,279.6 724.0,279.6 724.7,279.7 725.4,279.3 726.1,279.4 726.8,280.1 727.5,280.1" fill="none" stroke="#f2000b" stroke-width="5.2" stroke-linejoin="round" />
<polyline points="726.1,279.4 726.8,280.1 727.5,280.1 728.2,279.0 728.9,279.0 729.6,279.8 730.3,278.8 731.0,279.0 731.7,278.9 732.4,278.7 733.1,278.9 733.8,278.8 734.5,278.0 735.2,277.6 735.9,276.1 736.6,277.3 737.3,275.5 738.0,276.5 738.7,275.9 739.4,274.3 740.1,273.1 740.8,272.6 741.5,272.1 742.2,270.2 742.9,269.2 743.6,267.0 744.3,267.2 745.0,265.7 745.7,262.7 746.4,262.2 747.1,259.5 747.8,256.7 748.5,254.8 749.2,254.1 749.9,252.1 750.6,250.0 751.3,246.3 752.0,245.3 752.7,242.2 753.4,239.7 754.1,238.5 754.8,236.4 755.5,233.0 756.2,230.9 756.9,228.8 757.6,225.3 758.3,223.3" fill="none" stroke="#f2000b" stroke-width="4.2" stroke-linejoin="round" />
<polyline points="758.3,223.3 758.5,219.9 758.8,215.9 759.0,209.2 759.3,203.7 759.5,198.9 759.8,193.0 760.0,189.4 760.3,183.8 760.5,178.0 760.8,171.9 761.0,166.6 761.2,162.3 761.5,157.3 761.7,153.8 762.0,152.1 762.2,149.7 762.5,149.4 762.7,146.7 763.0,145.2 763.2,143.4 763.4,141.9 763.7,140.6 763.9,139.5 764.2,137.9 764.4,136.2 764.7,133.8 764.9,133.8" fill="none" stroke="#f2000b" stroke-width="2.2" stroke-linejoin="round" />
<polyline points="764.2,137.9 764.4,136.2 764.7,133.8 764.9,133.8 765.2,132.8 765.4,130.9 766.1,129.3 766.8,127.2 767.5,124.8 768.2,121.4 768.9,119.3 769.6,115.7 770.3,113.4 771.0,111.0 771.7,111.8 772.4,111.5 773.1,111.0 773.8,109.7 774.5,108.7" fill="none" stroke="#f2000b" stroke-width="4.2" stroke-linejoin="round" />
<polyline points="774.5,108.7 775.2,108.6 775.9,108.4 776.6,107.5 777.3,106.6 778.0,105.9 778.7,105.2 779.4,104.5 780.1,103.7 780.8,106.0 781.5,101.7 782.2,104.2 782.9,102.3 783.6,102.9 784.3,101.0 785.0,103.9 785.7,103.7 786.4,103.7 787.1,104.2 787.8,100.3 788.5,102.0 789.2,103.4 789.9,103.0 790.6,99.8 791.3,102.5 792.0,104.0 792.7,100.9 793.4,101.7 794.1,99.9 794.8,104.8 795.5,102.8 796.2,100.9 796.9,100.8 797.6,100.5 798.3,105.5 799.0,104.4 799.7,105.6 800.4,105.5 801.1,101.5 801.8,103.9 802.5,102.3 803.2,105.6 803.9,103.2 804.6,105.8 805.3,107.4 806.0,105.1 806.7,104.8 807.4,109.9 808.1,107.9 808.8,108.3 809.5,111.1 810.2,110.8 810.9,112.6 811.6,112.9 812.3,113.0 813.0,110.7 813.7,109.9 814.4,111.9 815.1,112.5 815.8,110.4 816.5,108.0 817.2,110.2 817.9,109.1 818.6,109.2 819.3,105.5 820.0,106.1 820.7,108.0 821.4,107.0 822.1,104.7 822.8,103.1 823.5,101.8 824.2,104.1 824.9,102.9 825.6,99.4 826.3,100.9 827.0,101.6 827.7,101.4 828.4,97.9 829.1,101.3 829.8,99.9 830.5,101.0 831.2,100.7 831.9,98.2 832.6,97.5 833.3,100.9 834.0,101.8 834.7,98.9 835.4,101.7 836.1,102.8 836.8,97.9 837.5,100.4 838.2,98.3 838.9,100.5 839.6,97.9 840.3,100.1 841.0,101.7 841.7,102.5 842.4,99.6 843.1,99.1 843.8,97.6 844.5,102.0 845.2,99.1 845.9,100.4 846.6,99.7 847.3,101.6 848.0,100.8 848.7,99.5 849.4,97.3 850.1,101.7 850.8,99.6 851.5,97.9 852.2,97.0 852.9,101.1 853.6,101.5 854.3,97.0 855.0,96.8 855.7,99.5 856.4,101.8 857.1,97.0 857.8,99.9 858.5,97.1 859.2,98.6 859.9,97.5 860.6,101.1 861.3,97.6 862.0,100.7 862.7,99.7 863.4,97.2 864.1,97.3 864.8,101.0 865.5,101.0 866.2,100.2 866.9,99.7 867.6,100.7 868.3,102.2 869.0,101.8 869.7,99.3 870.4,98.6 871.1,103.4 871.8,100.8 872.5,99.9 873.2,104.0 873.9,99.8 874.6,104.0 875.3,102.0 876.0,102.9 876.7,103.2 877.4,105.6 878.1,105.6 878.8,105.4 879.5,106.9 880.2,106.3 880.9,108.1 881.6,108.8 882.3,111.5 883.0,107.7 883.7,107.7 884.4,108.5 885.1,105.0 885.8,104.3 886.5,105.4 887.2,106.2 887.9,104.0 888.6,105.4 889.3,104.6 890.0,102.3 890.7,103.4 891.4,100.8 892.1,99.7 892.8,101.6 893.5,97.6 894.2,99.9 894.9,95.7 895.6,94.9 896.3,96.3 897.0,98.8 897.7,96.4 898.4,97.0 899.1,93.9 899.8,98.3 900.5,94.4 901.2,93.7 901.9,95.1 902.6,94.7 903.3,98.0 904.0,93.8 904.7,96.4 905.4,93.9 906.1,94.1 906.8,98.2 907.5,94.8 908.2,94.0 908.9,98.7 909.6,97.2 910.3,95.0 911.0,98.2 911.7,94.2 912.4,97.6 913.1,94.7 913.8,98.3 914.5,96.4 915.2,94.1 915.9,98.0 916.6,97.7 917.3,96.3 918.0,97.4 918.7,98.9 919.4,98.1 920.1,98.2 920.8,94.0 921.5,95.3 922.2,94.1 922.9,98.0 923.6,94.6 924.3,98.2 925.0,96.0 925.7,95.3 926.4,96.8 927.1,94.0 927.8,95.7 928.5,95.5 929.2,93.8 929.9,98.0 930.6,93.2 931.3,95.1 932.0,96.3 932.7,94.1 933.4,97.0 934.1,93.0 934.8,95.2 935.5,96.3 936.2,94.1 936.9,95.8 937.6,97.2 938.3,94.3 939.0,98.3 939.7,94.3 940.4,97.5 941.1,95.6 941.8,93.9 942.5,96.2 943.2,95.9 943.9,98.0 944.6,99.8 945.3,99.6 946.0,97.5 946.7,93.6 947.4,93.2 948.1,91.3 948.8,87.8 949.5,90.5 950.2,89.0 950.9,88.0 951.6,92.7 952.3,94.1 953.0,93.5 953.7,96.1 954.4,96.1" fill="none" stroke="#f2000b" stroke-width="5.2" stroke-linejoin="round" />
<path d="M759.0,206.2l2,5h-4zM760.0,186.4l2,5h-4zM761.0,163.6l2,5h-4zM762.0,149.1l2,5h-4zM763.0,142.2l2,5h-4zM763.9,136.5l2,5h-4zM776.6,102.9l3,8h-6zM778.0,100.8l3,8h-6zM779.4,98.4l3,8h-6zM780.8,101.4l3,8h-6zM782.2,98.9l3,8h-6zM783.6,98.7l3,8h-6zM785.0,100.2l3,8h-6zM786.4,98.5l3,8h-6zM787.8,95.5l3,8h-6zM789.2,99.1l3,8h-6zM790.6,94.6l3,8h-6zM792.0,98.2l3,8h-6zM793.4,97.4l3,8h-6zM794.8,100.9l3,8h-6zM796.2,96.8l3,8h-6zM797.6,96.1l3,8h-6zM799.0,100.5l3,8h-6zM800.4,101.1l3,8h-6zM801.8,99.3l3,8h-6zM803.2,100.5l3,8h-6zM804.6,100.2l3,8h-6zM806.0,100.5l3,8h-6zM807.4,103.7l3,8h-6zM808.8,103.1l3,8h-6zM810.2,106.7l3,8h-6zM811.6,108.5l3,8h-6zM813.0,106.1l3,8h-6zM814.4,106.2l3,8h-6zM815.8,105.1l3,8h-6zM817.2,105.1l3,8h-6zM818.6,104.6l3,8h-6zM820.0,100.8l3,8h-6zM821.4,102.5l3,8h-6zM822.8,99.4l3,8h-6zM824.2,98.1l3,8h-6zM825.6,94.8l3,8h-6zM827.0,97.4l3,8h-6zM828.4,92.5l3,8h-6zM829.8,94.9l3,8h-6zM831.2,97.1l3,8h-6zM832.6,91.1l3,8h-6zM834.0,96.9l3,8h-6zM835.4,95.7l3,8h-6zM836.8,93.7l3,8h-6zM838.2,94.6l3,8h-6zM839.6,92.9l3,8h-6zM841.0,95.5l3,8h-6zM842.4,94.8l3,8h-6zM843.8,92.7l3,8h-6zM845.2,94.7l3,8h-6zM846.6,94.7l3,8h-6zM848.0,96.2l3,8h-6zM849.4,93.3l3,8h-6zM850.8,94.7l3,8h-6zM852.2,91.7l3,8h-6zM853.6,97.8l3,8h-6zM855.0,91.0l3,8h-6zM856.4,97.3l3,8h-6zM857.8,94.6l3,8h-6zM859.2,94.4l3,8h-6zM860.6,94.9l3,8h-6zM862.0,97.1l3,8h-6zM863.4,91.8l3,8h-6zM864.8,94.7l3,8h-6zM866.2,94.5l3,8h-6zM867.6,95.3l3,8h-6zM869.0,95.3l3,8h-6zM870.4,93.3l3,8h-6zM871.8,95.5l3,8h-6zM873.2,99.6l3,8h-6zM874.6,98.5l3,8h-6zM876.0,97.2l3,8h-6zM877.4,99.8l3,8h-6zM878.8,101.1l3,8h-6zM880.2,102.6l3,8h-6zM881.6,103.9l3,8h-6zM883.0,101.8l3,8h-6zM884.4,104.4l3,8h-6zM885.8,98.9l3,8h-6zM887.2,100.4l3,8h-6zM888.6,99.3l3,8h-6zM890.0,98.1l3,8h-6zM891.4,96.7l3,8h-6zM892.8,97.0l3,8h-6zM894.2,94.9l3,8h-6zM895.6,90.1l3,8h-6zM897.0,93.0l3,8h-6zM898.4,93.4l3,8h-6zM899.8,92.9l3,8h-6zM901.2,89.1l3,8h-6zM902.6,90.6l3,8h-6zM904.0,89.7l3,8h-6zM905.4,88.8l3,8h-6zM906.8,92.6l3,8h-6zM908.2,89.2l3,8h-6zM909.6,91.1l3,8h-6zM911.0,94.2l3,8h-6zM912.4,92.2l3,8h-6zM913.8,94.4l3,8h-6zM915.2,88.4l3,8h-6zM916.6,92.3l3,8h-6zM918.0,91.6l3,8h-6zM919.4,92.9l3,8h-6zM920.8,88.0l3,8h-6zM922.2,87.6l3,8h-6zM923.6,90.3l3,8h-6zM925.0,90.3l3,8h-6zM926.4,91.0l3,8h-6zM927.8,90.1l3,8h-6zM929.2,88.8l3,8h-6zM930.6,87.9l3,8h-6zM932.0,91.7l3,8h-6zM933.4,92.4l3,8h-6zM934.8,89.8l3,8h-6zM936.2,90.4l3,8h-6zM937.6,93.3l3,8h-6zM939.0,91.9l3,8h-6zM940.4,93.5l3,8h-6zM941.8,90.1l3,8h-6zM943.2,91.8l3,8h-6zM944.6,93.8l3,8h-6zM946.0,93.5l3,8h-6zM947.4,88.6l3,8h-6zM948.8,81.4l3,8h-6zM950.2,82.5l3,8h-6zM951.6,89.1l3,8h-6zM953.0,88.9l3,8h-6zM954.4,90.3l3,8h-6z" fill="#f2000b"/>
<rect x="583.8" y="90.1" width="2.6" height="11.1" fill="#000"/>
<rect x="585.9" y="89.5" width="2.6" height="10.5" fill="#000"/>
<rect x="588.0" y="88.1" width="2.6" height="11.6" fill="#000"/>
<rect x="590.1" y="88.1" width="2.6" height="11.3" fill="#000"/>
<rect x="592.2" y="88.3" width="2.6" height="11.8" fill="#000"/>
<rect x="594.3" y="88.6" width="2.6" height="10.3" fill="#000"/>
<rect x="596.4" y="88.9" width="2.6" height="10.7" fill="#000"/>
<rect x="598.5" y="88.2" width="2.6" height="10.7" fill="#000"/>
<rect x="600.6" y="88.8" width="2.6" height="11.9" fill="#000"/>
<rect x="602.7" y="89.6" width="2.6" height="10.7" fill="#000"/>
<rect x="604.8" y="89.2" width="2.6" height="11.0" fill="#000"/>
<rect x="606.9" y="88.0" width="2.6" height="10.7" fill="#000"/>
<rect x="609.0" y="88.2" width="2.6" height="11.4" fill="#000"/>
<rect x="611.1" y="88.5" width="2.6" height="11.3" fill="#000"/>
<rect x="613.2" y="87.7" width="2.6" height="11.1" fill="#000"/>
<rect x="615.3" y="88.5" width="2.6" height="11.0" fill="#000"/>
<rect x="617.4" y="88.3" width="2.6" height="10.5" fill="#000"/>
<rect x="619.5" y="88.0" width="2.6" height="10.4" fill="#000"/>
<rect x="621.6" y="87.9" width="2.6" height="10.9" fill="#000"/>
<rect x="623.7" y="88.3" width="2.6" height="10.6" fill="#000"/>
<rect x="625.8" y="89.2" width="2.6" height="11.2" fill="#000"/>
<rect x="627.9" y="88.2" width="2.6" height="11.3" fill="#000"/>
<rect x="630.0" y="88.4" width="2.6" height="11.4" fill="#000"/>
<rect x="632.1" y="88.8" width="2.6" height="11.5" fill="#000"/>
<rect x="634.2" y="88.8" width="2.6" height="11.2" fill="#000"/>
<rect x="636.3" y="87.8" width="2.6" height="11.0" fill="#000"/>
<rect x="638.4" y="89.0" width="2.6" height="10.6" fill="#000"/>
<rect x="640.5" y="88.5" width="2.6" height="11.1" fill="#000"/>
<rect x="642.6" y="88.9" width="2.6" height="11.3" fill="#000"/>
<rect x="644.7" y="89.2" width="2.6" height="10.8" fill="#000"/>
<rect x="646.8" y="89.9" width="2.6" height="10.6" fill="#000"/>
<rect x="648.9" y="88.4" width="2.6" height="11.1" fill="#000"/>
<rect x="651.0" y="87.5" width="2.6" height="12.0" fill="#000"/>
<rect x="653.1" y="88.0" width="2.6" height="11.6" fill="#000"/>
<rect x="655.2" y="89.3" width="2.6" height="10.3" fill="#000"/>
<rect x="657.3" y="88.5" width="2.6" height="11.0" fill="#000"/>
<rect x="659.4" y="89.4" width="2.6" height="10.9" fill="#000"/>
<rect x="661.5" y="87.5" width="2.6" height="11.5" fill="#000"/>
<rect x="663.6" y="89.0" width="2.6" height="10.6" fill="#000"/>
<rect x="665.7" y="88.7" width="2.6" height="11.5" fill="#000"/>
<rect x="667.8" y="89.1" width="2.6" height="10.8" fill="#000"/>
<rect x="669.9" y="88.1" width="2.6" height="11.4" fill="#000"/>
<rect x="672.0" y="89.6" width="2.6" height="11.7" fill="#000"/>
<rect x="674.1" y="89.0" width="2.6" height="11.1" fill="#000"/>
<rect x="676.2" y="89.7" width="2.6" height="11.5" fill="#000"/>
<rect x="678.3" y="88.5" width="2.6" height="11.1" fill="#000"/>
<rect x="680.4" y="89.3" width="2.6" height="11.5" fill="#000"/>
<rect x="682.5" y="90.1" width="2.6" height="10.4" fill="#000"/>
<rect x="684.6" y="90.4" width="2.6" height="10.2" fill="#000"/>
<rect x="686.7" y="88.1" width="2.6" height="11.3" fill="#000"/>
<rect x="688.8" y="89.2" width="2.6" height="11.9" fill="#000"/>
<rect x="690.9" y="89.7" width="2.6" height="11.0" fill="#000"/>
<rect x="693.0" y="89.4" width="2.6" height="11.8" fill="#000"/>
<rect x="695.1" y="88.4" width="2.6" height="10.9" fill="#000"/>
<rect x="697.2" y="89.0" width="2.6" height="11.0" fill="#000"/>
<rect x="699.3" y="88.3" width="2.6" height="10.7" fill="#000"/>
<rect x="701.4" y="88.4" width="2.6" height="11.2" fill="#000"/>
<rect x="703.5" y="89.2" width="2.6" height="10.8" fill="#000"/>
<rect x="705.6" y="89.0" width="2.6" height="11.7" fill="#000"/>
<rect x="707.7" y="88.1" width="2.6" height="11.0" fill="#000"/>
<rect x="709.8" y="89.0" width="2.6" height="10.7" fill="#000"/>
<rect x="711.9" y="88.7" width="2.6" height="11.2" fill="#000"/>
<rect x="714.0" y="90.0" width="2.6" height="10.4" fill="#000"/>
<rect x="716.1" y="89.7" width="2.6" height="10.8" fill="#000"/>
<rect x="718.2" y="89.2" width="2.6" height="11.7" fill="#000"/>
<rect x="720.3" y="91.4" width="2.6" height="10.6" fill="#000"/>
<rect x="722.4" y="90.1" width="2.6" height="11.8" fill="#000"/>
<rect x="724.5" y="91.7" width="2.6" height="10.3" fill="#000"/>
<rect x="726.6" y="91.7" width="2.6" height="11.1" fill="#000"/>
<rect x="728.7" y="90.7" width="2.6" height="11.6" fill="#000"/>
<rect x="730.8" y="91.0" width="2.6" height="12.0" fill="#000"/>
<rect x="732.9" y="92.2" width="2.6" height="11.1" fill="#000"/>
<rect x="735.0" y="91.8" width="2.6" height="10.9" fill="#000"/>
<rect x="737.1" y="90.9" width="2.6" height="11.3" fill="#000"/>
<rect x="739.2" y="91.1" width="2.6" height="11.9" fill="#000"/>
<rect x="741.3" y="91.8" width="2.6" height="11.1" fill="#000"/>
<rect x="743.4" y="91.7" width="2.6" height="10.9" fill="#000"/>
<rect x="745.5" y="92.7" width="2.6" height="11.2" fill="#000"/>
<rect x="747.6" y="92.7" width="2.6" height="11.8" fill="#000"/>
<rect x="749.7" y="92.5" width="2.6" height="11.1" fill="#000"/>
<rect x="751.8" y="91.9" width="2.6" height="11.3" fill="#000"/>
<rect x="753.9" y="90.2" width="2.6" height="10.8" fill="#000"/>
<rect x="756.0" y="89.5" width="2.6" height="11.7" fill="#000"/>
<rect x="758.1" y="90.4" width="2.6" height="10.8" fill="#000"/>
<rect x="760.2" y="88.3" width="2.6" height="11.7" fill="#000"/>
<rect x="762.3" y="89.7" width="2.6" height="10.4" fill="#000"/>
<rect x="764.4" y="89.7" width="2.6" height="11.4" fill="#000"/>
<rect x="766.5" y="88.7" width="2.6" height="12.0" fill="#000"/>
<rect x="768.6" y="89.1" width="2.6" height="11.0" fill="#000"/>
<rect x="770.7" y="89.1" width="2.6" height="10.7" fill="#000"/>
<rect x="772.8" y="87.8" width="2.6" height="11.1" fill="#000"/>
<rect x="774.9" y="89.1" width="2.6" height="10.5" fill="#000"/>
<rect x="777.0" y="88.8" width="2.6" height="11.3" fill="#000"/>
<rect x="779.1" y="87.9" width="2.6" height="12.0" fill="#000"/>
<rect x="781.2" y="87.9" width="2.6" height="10.3" fill="#000"/>
<rect x="783.3" y="87.0" width="2.6" height="11.6" fill="#000"/>
<rect x="785.4" y="87.5" width="2.6" height="11.4" fill="#000"/>
<rect x="787.5" y="88.7" width="2.6" height="10.7" fill="#000"/>
<rect x="789.6" y="87.5" width="2.6" height="11.3" fill="#000"/>
<rect x="791.7" y="86.9" width="2.6" height="10.6" fill="#000"/>
<rect x="793.8" y="86.8" width="2.6" height="11.2" fill="#000"/>
<rect x="795.9" y="86.3" width="2.6" height="11.4" fill="#000"/>
<rect x="798.0" y="86.4" width="2.6" height="12.0" fill="#000"/>
<rect x="800.1" y="86.8" width="2.6" height="10.9" fill="#000"/>
<rect x="802.2" y="86.7" width="2.6" height="10.5" fill="#000"/>
<rect x="804.3" y="87.5" width="2.6" height="10.4" fill="#000"/>
<rect x="806.4" y="86.3" width="2.6" height="10.5" fill="#000"/>
<rect x="808.5" y="87.1" width="2.6" height="11.7" fill="#000"/>
<rect x="810.6" y="85.5" width="2.6" height="11.7" fill="#000"/>
<rect x="812.7" y="87.7" width="2.6" height="10.2" fill="#000"/>
<rect x="814.8" y="86.4" width="2.6" height="10.8" fill="#000"/>
<rect x="816.9" y="85.7" width="2.6" height="10.8" fill="#000"/>
<rect x="819.0" y="86.5" width="2.6" height="10.7" fill="#000"/>
<rect x="821.1" y="86.6" width="2.6" height="11.8" fill="#000"/>
<rect x="823.2" y="86.1" width="2.6" height="10.8" fill="#000"/>
<rect x="825.3" y="86.5" width="2.6" height="10.9" fill="#000"/>
<rect x="827.4" y="86.5" width="2.6" height="11.8" fill="#000"/>
<rect x="829.5" y="85.2" width="2.6" height="11.9" fill="#000"/>
<rect x="831.6" y="86.7" width="2.6" height="11.3" fill="#000"/>
<rect x="833.7" y="87.0" width="2.6" height="10.3" fill="#000"/>
<rect x="835.8" y="85.3" width="2.6" height="11.7" fill="#000"/>
<rect x="837.9" y="86.9" width="2.6" height="11.8" fill="#000"/>
<rect x="840.0" y="86.3" width="2.6" height="10.7" fill="#000"/>
<rect x="842.1" y="85.4" width="2.6" height="11.9" fill="#000"/>
<rect x="844.2" y="86.3" width="2.6" height="11.9" fill="#000"/>
<rect x="846.3" y="87.0" width="2.6" height="10.9" fill="#000"/>
<rect x="848.4" y="86.8" width="2.6" height="10.6" fill="#000"/>
<rect x="850.5" y="85.3" width="2.6" height="11.8" fill="#000"/>
<rect x="852.6" y="85.6" width="2.6" height="11.6" fill="#000"/>
<rect x="854.7" y="86.9" width="2.6" height="10.5" fill="#000"/>
<rect x="856.8" y="87.4" width="2.6" height="10.5" fill="#000"/>
<rect x="858.9" y="86.0" width="2.6" height="10.7" fill="#000"/>
<rect x="861.0" y="86.2" width="2.6" height="10.4" fill="#000"/>
<rect x="863.1" y="86.8" width="2.6" height="10.9" fill="#000"/>
<rect x="865.2" y="86.0" width="2.6" height="10.3" fill="#000"/>
<rect x="867.3" y="86.8" width="2.6" height="11.7" fill="#000"/>
<rect x="869.4" y="86.9" width="2.6" height="10.6" fill="#000"/>
<rect x="871.5" y="86.9" width="2.6" height="10.7" fill="#000"/>
<rect x="873.6" y="87.6" width="2.6" height="10.3" fill="#000"/>
<rect x="875.7" y="86.8" width="2.6" height="10.8" fill="#000"/>
<rect x="877.8" y="85.7" width="2.6" height="11.5" fill="#000"/>
<rect x="879.9" y="87.5" width="2.6" height="10.7" fill="#000"/>
<rect x="882.0" y="86.3" width="2.6" height="10.4" fill="#000"/>
<rect x="884.1" y="87.2" width="2.6" height="11.7" fill="#000"/>
<rect x="886.2" y="86.3" width="2.6" height="10.5" fill="#000"/>
<rect x="888.3" y="86.5" width="2.6" height="11.5" fill="#000"/>
<rect x="890.4" y="85.9" width="2.6" height="11.9" fill="#000"/>
<rect x="892.5" y="86.2" width="2.6" height="11.9" fill="#000"/>
<rect x="894.6" y="87.3" width="2.6" height="10.6" fill="#000"/>
<rect x="896.7" y="87.7" width="2.6" height="10.4" fill="#000"/>
<rect x="898.8" y="88.0" width="2.6" height="10.7" fill="#000"/>
<rect x="900.9" y="86.3" width="2.6" height="11.3" fill="#000"/>
<rect x="903.0" y="86.4" width="2.6" height="10.6" fill="#000"/>
<rect x="905.1" y="86.9" width="2.6" height="10.6" fill="#000"/>
<rect x="907.2" y="87.7" width="2.6" height="10.4" fill="#000"/>
<rect x="909.3" y="86.4" width="2.6" height="11.2" fill="#000"/>
<rect x="911.4" y="86.2" width="2.6" height="11.6" fill="#000"/>
<rect x="913.5" y="87.0" width="2.6" height="11.4" fill="#000"/>
<rect x="915.6" y="87.1" width="2.6" height="10.8" fill="#000"/>
<rect x="917.7" y="87.3" width="2.6" height="10.4" fill="#000"/>
<rect x="919.8" y="86.9" width="2.6" height="11.7" fill="#000"/>
<rect x="921.9" y="86.1" width="2.6" height="11.4" fill="#000"/>
<rect x="924.0" y="85.9" width="2.6" height="11.2" fill="#000"/>
<rect x="926.1" y="87.1" width="2.6" height="11.1" fill="#000"/>
<rect x="928.2" y="87.2" width="2.6" height="10.3" fill="#000"/>
<rect x="930.3" y="87.1" width="2.6" height="10.6" fill="#000"/>
<rect x="932.4" y="86.8" width="2.6" height="11.5" fill="#000"/>
<rect x="934.5" y="87.7" width="2.6" height="10.9" fill="#000"/>
<rect x="936.6" y="87.0" width="2.6" height="11.6" fill="#000"/>
<rect x="938.7" y="86.0" width="2.6" height="11.8" fill="#000"/>
<rect x="940.8" y="86.0" width="2.6" height="10.7" fill="#000"/>
<rect x="942.9" y="87.0" width="2.6" height="11.4" fill="#000"/>
<rect x="945.0" y="86.3" width="2.6" height="10.8" fill="#000"/>
<rect x="947.1" y="86.2" width="2.6" height="11.4" fill="#000"/>
<rect x="949.2" y="86.6" width="2.6" height="10.6" fill="#000"/>
<rect x="951.3" y="87.1" width="2.6" height="10.8" fill="#000"/>
<rect x="953.4" y="86.6" width="2.6" height="10.5" fill="#000"/>
<polyline points="585.6,95.8 586.3,95.4 587.0,94.2 587.7,94.6 588.4,94.7 589.1,93.5 589.8,93.6 590.5,94.7 591.2,93.5 591.9,94.0 592.6,93.7 593.3,93.9 594.0,93.5 594.7,93.7 595.4,93.6 596.1,94.6 596.8,93.8 597.5,94.1 598.2,93.8 598.9,94.3 599.6,93.5 600.3,94.1 601.0,94.5 601.7,94.6 602.4,94.8 603.1,94.2 603.8,94.9 604.5,94.2 605.2,94.8 605.9,94.2 606.6,94.2 607.3,94.1 608.0,93.6 608.7,95.0 609.4,93.6 610.1,94.2 610.8,94.1 611.5,93.9 612.2,93.6 612.9,94.4 613.6,94.3 614.3,93.5 615.0,94.9 615.7,94.0 616.4,94.0 617.1,95.0 617.8,94.0 618.5,93.9 619.2,93.5 619.9,94.5 620.6,93.4 621.3,94.2 622.0,94.3 622.7,93.6 623.4,95.0 624.1,93.9 624.8,94.0 625.5,94.5 626.2,93.7 626.9,94.5 627.6,94.3 628.3,94.2 629.0,93.8 629.7,94.7 630.4,94.4 631.1,94.4 631.8,94.2 632.5,93.7 633.2,94.6 633.9,93.7 634.6,94.4 635.3,94.3 636.0,94.7 636.7,94.3 637.4,93.5 638.1,94.0 638.8,93.8 639.5,94.6 640.2,94.6 640.9,94.6 641.6,94.2 642.3,94.1 643.0,93.8 643.7,95.1 644.4,93.9 645.1,93.7 645.8,94.2 646.5,95.1 647.2,94.6 647.9,95.1 648.6,94.8 649.3,93.6 650.0,94.2 650.7,94.1 651.4,93.9 652.1,93.7 652.8,94.2 653.5,94.2 654.2,94.1 654.9,94.0 655.6,94.2 656.3,94.1 657.0,94.8 657.7,94.1 658.4,94.4 659.1,93.9 659.8,95.0 660.5,94.9 661.2,95.1 661.9,93.9 662.6,93.7 663.3,94.1 664.0,94.6 664.7,93.9 665.4,93.9 666.1,94.3 666.8,94.8 667.5,94.7 668.2,94.5 668.9,94.7 669.6,94.5 670.3,94.2 671.0,93.7 671.7,95.1 672.4,94.3 673.1,95.2 673.8,95.0 674.5,93.9 675.2,94.3 675.9,93.7 676.6,94.5 677.3,95.2 678.0,94.6 678.7,94.3 679.4,93.7 680.1,93.7 680.8,94.5 681.5,94.6 682.2,95.1 682.9,94.2 683.6,94.9 684.3,95.0 685.0,95.2 685.7,95.3 686.4,94.2 687.1,95.1 687.8,93.7 688.5,95.1 689.2,93.9 689.9,95.1 690.6,95.3 691.3,94.1 692.0,94.9 692.7,94.1 693.4,95.0 694.1,95.2 694.8,94.0 695.5,94.1 696.2,93.9 696.9,94.1 697.6,95.2 698.3,94.3 699.0,94.2 699.7,94.6 700.4,93.8 701.1,94.9 701.8,93.8 702.5,94.2 703.2,95.3 703.9,95.3 704.6,94.3 705.3,94.0 706.0,95.2 706.7,94.8 707.4,94.2 708.1,95.1 708.8,93.9 709.5,94.6 710.2,95.3 710.9,94.8 711.6,94.4 712.3,94.6 713.0,94.3 713.7,95.1 714.4,94.1 715.1,94.8 715.8,94.3 716.5,94.4 717.2,94.7 717.9,94.8 718.6,94.5 719.3,94.6 720.0,95.2 720.7,96.0 721.4,96.8 722.1,97.5 722.8,96.1 723.5,96.5 724.2,96.4 724.9,97.2 725.6,96.8 726.3,96.2 727.0,96.4 727.7,96.8 728.4,97.3 729.1,97.2 729.8,96.4 730.5,97.3 731.2,96.8 731.9,97.0 732.6,96.5 733.3,96.7 734.0,97.5 734.7,98.0 735.4,97.6 736.1,97.4 736.8,97.1 737.5,96.8 738.2,96.7 738.9,98.1 739.6,96.8 740.3,96.9 741.0,96.8 741.7,97.3 742.4,97.8 743.1,96.9 743.8,97.0 744.5,97.2 745.2,96.9 745.9,97.8 746.6,98.3 747.3,97.5 748.0,97.1 748.7,98.1 749.4,97.3 750.1,97.0 750.8,98.1 751.5,97.6 752.2,97.1 752.9,97.1 753.6,97.2 754.3,96.8 755.0,95.6 755.7,95.2 756.4,95.4 757.1,95.7 757.8,94.5 758.5,94.5 759.2,95.3 759.9,94.7 760.6,94.2 761.3,94.2 762.0,94.7 762.7,94.8 763.4,94.5 764.1,95.1 764.8,95.1 765.5,95.1 766.2,94.2 766.9,94.7 767.6,94.4 768.3,94.6 769.0,94.4 769.7,94.9 770.4,95.0 771.1,93.5 771.8,94.4 772.5,94.8 773.2,93.9 773.9,93.6 774.6,94.6 775.3,93.9 776.0,94.2 776.7,93.9 777.4,94.7 778.1,94.6 778.8,93.0 779.5,93.2 780.2,93.7 780.9,93.6 781.6,94.0 782.3,93.1 783.0,93.6 783.7,92.8 784.4,93.0 785.1,92.9 785.8,92.6 786.5,93.7 787.2,94.0 787.9,93.7 788.6,93.7 789.3,93.8 790.0,93.8 790.7,92.9 791.4,92.4 792.1,93.0 792.8,92.2 793.5,92.2 794.2,93.5 794.9,92.6 795.6,92.9 796.3,93.3 797.0,91.9 797.7,93.0 798.4,92.5 799.1,92.4 799.8,91.8 800.5,92.2 801.2,92.7 801.9,92.5 802.6,93.0 803.3,91.6 804.0,91.6 804.7,92.8 805.4,93.1 806.1,92.7 806.8,92.5 807.5,91.6 808.2,91.5 808.9,91.6 809.6,92.9 810.3,91.6 811.0,91.7 811.7,91.8 812.4,91.2 813.1,92.7 813.8,92.5 814.5,91.5 815.2,91.2 815.9,91.6 816.6,92.2 817.3,91.7 818.0,91.4 818.7,92.5 819.4,92.2 820.1,92.3 820.8,92.5 821.5,91.9 822.2,92.4 822.9,92.3 823.6,92.5 824.3,91.6 825.0,92.7 825.7,91.5 826.4,92.4 827.1,92.6 827.8,91.2 828.5,92.4 829.2,91.2 829.9,91.3 830.6,91.3 831.3,92.5 832.0,92.0 832.7,92.6 833.4,91.2 834.1,91.4 834.8,91.7 835.5,92.0 836.2,92.2 836.9,91.4 837.6,92.0 838.3,91.7 839.0,92.5 839.7,92.4 840.4,92.7 841.1,91.6 841.8,91.9 842.5,92.5 843.2,91.3 843.9,92.3 844.6,92.1 845.3,92.5 846.0,92.3 846.7,91.4 847.4,92.2 848.1,92.5 848.8,92.0 849.5,92.3 850.2,91.3 850.9,92.6 851.6,91.2 852.3,92.7 853.0,91.3 853.7,91.7 854.4,92.5 855.1,92.0 855.8,92.3 856.5,92.4 857.2,92.5 857.9,92.2 858.6,91.2 859.3,91.2 860.0,91.3 860.7,92.7 861.4,92.3 862.1,91.4 862.8,92.7 863.5,91.6 864.2,92.3 864.9,91.2 865.6,92.8 866.3,91.5 867.0,92.3 867.7,92.6 868.4,92.8 869.1,91.5 869.8,92.0 870.5,92.5 871.2,92.1 871.9,91.4 872.6,92.5 873.3,91.9 874.0,92.6 874.7,92.6 875.4,91.6 876.1,91.7 876.8,92.5 877.5,92.7 878.2,92.7 878.9,91.9 879.6,92.1 880.3,92.4 881.0,92.5 881.7,91.9 882.4,91.7 883.1,91.6 883.8,91.9 884.5,92.6 885.2,92.8 885.9,91.7 886.6,92.2 887.3,91.7 888.0,92.8 888.7,91.6 889.4,92.4 890.1,91.5 890.8,91.5 891.5,92.1 892.2,92.9 892.9,91.4 893.6,92.1 894.3,91.5 895.0,92.5 895.7,92.6 896.4,91.6 897.1,92.3 897.8,92.7 898.5,92.3 899.2,92.0 899.9,92.9 900.6,92.1 901.3,92.2 902.0,92.1 902.7,92.8 903.4,91.8 904.1,91.6 904.8,91.5 905.5,92.4 906.2,91.8 906.9,92.3 907.6,91.7 908.3,92.9 909.0,91.5 909.7,91.4 910.4,92.2 911.1,92.1 911.8,92.1 912.5,92.1 913.2,93.0 913.9,91.4 914.6,92.6 915.3,92.7 916.0,92.8 916.7,92.6 917.4,91.7 918.1,93.0 918.8,92.8 919.5,91.9 920.2,92.7 920.9,93.0 921.6,92.0 922.3,92.1 923.0,92.2 923.7,91.9 924.4,92.9 925.1,91.6 925.8,91.9 926.5,93.0 927.2,92.8 927.9,92.2 928.6,92.2 929.3,92.6 930.0,92.8 930.7,92.4 931.4,92.8 932.1,92.1 932.8,91.6 933.5,92.8 934.2,92.1 934.9,91.8 935.6,92.8 936.3,91.7 937.0,91.5 937.7,92.4 938.4,92.4 939.1,91.7 939.8,92.2 940.5,92.4 941.2,91.5 941.9,91.8 942.6,92.5 943.3,92.7 944.0,92.5 944.7,92.4 945.4,91.5 946.1,91.8 946.8,91.6 947.5,91.8 948.2,91.7 948.9,93.0 949.6,92.3 950.3,91.5 951.0,91.6 951.7,92.7 952.4,92.4 953.1,92.1 953.8,92.5 954.5,92.3 955.2,93.0 955.9,92.4" fill="none" stroke="#ffff00" stroke-width="5.8" stroke-linejoin="round" />
<path d="M866.0,95.8l3.2,10h-6.4zM869.8,94.9l3.2,10h-6.4zM872.4,91.9l3.2,10h-6.4zM875.3,92.6l3.2,10h-6.4zM878.4,97.4l3.2,10h-6.4zM881.0,97.1l3.2,10h-6.4zM884.7,96.5l3.2,10h-6.4zM888.6,98.3l3.2,10h-6.4zM892.4,96.8l3.2,10h-6.4zM895.7,98.8l3.2,10h-6.4zM898.8,91.7l3.2,10h-6.4zM902.7,95.2l3.2,10h-6.4zM905.8,91.9l3.2,10h-6.4zM909.8,94.4l3.2,10h-6.4zM912.4,92.8l3.2,10h-6.4zM915.2,95.3l3.2,10h-6.4zM918.2,95.8l3.2,10h-6.4zM922.0,92.1l3.2,10h-6.4zM925.7,93.5l3.2,10h-6.4zM929.5,95.4l3.2,10h-6.4zM932.5,92.1l3.2,10h-6.4zM936.6,93.6l3.2,10h-6.4zM940.7,94.8l3.2,10h-6.4zM944.5,95.4l3.2,10h-6.4zM869,88l2.6,7h-5.2zM874,89l2.6,7h-5.2zM881,91l2.6,7h-5.2zM926,88l2.6,7h-5.2zM934,87l2.6,7h-5.2zM941,86l2.6,7h-5.2z" fill="#f2000b"/>
<path d="M946.5,116L948,100L950.5,84L953,79L955.5,84L956,116Z" fill="#f2000b"/>
<path d="M867,68.3h9.5M867,80.3h9.5M871.7,68.3v12M877.5,63.8h10M877.5,71h10M882.5,63.8v7.2M878,77h10M878,87h10M883,77v10" stroke="#000" stroke-width="1.7" fill="none"/>
<path d="M871.7,71l1.6,6h-3.2zM882.5,64.5l2.6,6.5h-5.2zM883,79l2.8,8h-5.6z" fill="#f2000b"/>
<g stroke="#000" stroke-width="3.7" fill="none">
<path d="M90.6,557.1V822.7"/>
<path d="M88.89999999999999,821.0H420.1"/>
<path d="M81.1,821.0H90.6"/>
<path d="M85.1,803.5H90.6"/>
<path d="M81.1,786.0H90.6"/>
<path d="M85.1,768.6H90.6"/>
<path d="M81.1,751.1H90.6"/>
<path d="M85.1,733.6H90.6"/>
<path d="M81.1,716.1H90.6"/>
<path d="M85.1,698.6H90.6"/>
<path d="M81.1,681.2H90.6"/>
<path d="M85.1,663.7H90.6"/>
<path d="M81.1,646.2H90.6"/>
<path d="M85.1,628.7H90.6"/>
<path d="M81.1,611.2H90.6"/>
<path d="M85.1,593.8H90.6"/>
<path d="M81.1,576.3H90.6"/>
<path d="M85.1,558.8H90.6"/>
<path d="M90.6,821.0v10.5"/>
<path d="M199.9,821.0v10.5"/>
<path d="M309.1,821.0v10.5"/>
<path d="M418.4,821.0v10.5"/>
</g>
<text x="73" y="827.2" font-size="19.6" text-anchor="end" fill="#000" >-2</text>
<text x="73" y="792.2" font-size="19.6" text-anchor="end" fill="#000" >2</text>
<text x="73" y="757.3" font-size="19.6" text-anchor="end" fill="#000" >6</text>
<text x="73" y="722.3" font-size="19.6" text-anchor="end" fill="#000" >10</text>
<text x="73" y="687.4" font-size="19.6" text-anchor="end" fill="#000" >14</text>
<text x="73" y="652.4" font-size="19.6" text-anchor="end" fill="#000" >18</text>
<text x="73" y="617.4" font-size="19.6" text-anchor="end" fill="#000" >22</text>
<text x="73" y="582.5" font-size="19.6" text-anchor="end" fill="#000" >26</text>
<text x="90.6" y="852.3" font-size="19.6" text-anchor="middle" fill="#000" >0</text>
<text x="199.9" y="852.3" font-size="19.6" text-anchor="middle" fill="#000" >20</text>
<text x="309.1" y="852.3" font-size="19.6" text-anchor="middle" fill="#000" >40</text>
<text x="418.4" y="852.3" font-size="19.6" text-anchor="middle" fill="#000" >60</text>
<text x="254.5" y="884.6" font-size="19.4" text-anchor="middle" fill="#000" letter-spacing="0.55">Time (seconds)</text>
<text transform="translate(43.3,786.2) rotate(-90)" font-size="19.8" letter-spacing="0.66">Surface</text>
<text transform="translate(43.3,704) rotate(-90)" font-size="19.8" letter-spacing="1.0">Oxygen</text>
<text transform="translate(43.3,618.2) rotate(-90)" font-size="19.8" letter-spacing="-0.9">(%)</text>
<path d="M96.3,611.0h11.8M96.3,636.2h11.8M107.3,588.2h11.8M107.3,698.9h11.8M118.2,583.0h11.8M118.2,725.1h11.8M129.1,599.6h11.8M129.1,758.3h11.8M140.0,668.6h11.8M140.0,778.4h11.8M151.0,727.2h11.8M151.0,784.6h11.8M161.9,757.8h11.8M161.9,788.9h11.8M172.8,775.3h11.8M172.8,791.8h11.8M216.5,788.8h11.8M216.5,795.5h11.8M227.4,774.4h11.8M227.4,812.1h11.8" stroke="#000" stroke-width="4.6" fill="none"/>
<path d="M101.5,610.4V636.8M112.5,587.6V699.5M123.4,582.4V725.7M134.3,599.0V758.9M145.2,668.0V779.0M156.2,726.6V785.2M167.1,757.2V789.5M178.0,774.7V792.4M221.7,788.2V796.1M232.6,773.8V812.7" stroke="#000" stroke-width="5.4" fill="none"/>
<rect x="215.5" y="784.9" width="12.6" height="15" fill="#000"/>
<circle cx="90.6" cy="619.2" r="5.3" fill="#000"/>
<circle cx="101.5" cy="623.5" r="5.3" fill="#000"/>
<circle cx="112.5" cy="643.9" r="5.3" fill="#000"/>
<circle cx="123.4" cy="653.2" r="5.3" fill="#000"/>
<circle cx="134.3" cy="679.4" r="5.3" fill="#000"/>
<circle cx="145.2" cy="723.5" r="5.3" fill="#000"/>
<circle cx="156.2" cy="756.3" r="5.3" fill="#000"/>
<circle cx="167.1" cy="773.8" r="5.3" fill="#000"/>
<circle cx="178.0" cy="784.3" r="5.3" fill="#000"/>
<circle cx="188.9" cy="788.7" r="5.3" fill="#000"/>
<circle cx="199.9" cy="790.8" r="5.3" fill="#000"/>
<circle cx="210.8" cy="791.3" r="5.3" fill="#000"/>
<circle cx="221.7" cy="792.4" r="5.3" fill="#000"/>
<circle cx="232.6" cy="793.3" r="5.3" fill="#000"/>
<circle cx="243.6" cy="795.2" r="5.3" fill="#000"/>
<circle cx="254.5" cy="795.6" r="5.3" fill="#000"/>
<circle cx="265.4" cy="796.0" r="5.3" fill="#000"/>
<circle cx="276.3" cy="796.4" r="5.3" fill="#000"/>
<circle cx="287.3" cy="796.8" r="5.3" fill="#000"/>
<circle cx="298.2" cy="797.2" r="5.3" fill="#000"/>
<circle cx="309.1" cy="797.6" r="5.3" fill="#000"/>
<circle cx="320.0" cy="798.0" r="5.3" fill="#000"/>
<circle cx="331.0" cy="798.4" r="5.3" fill="#000"/>
<circle cx="341.9" cy="798.8" r="5.3" fill="#000"/>
<circle cx="352.8" cy="799.1" r="5.3" fill="#000"/>
<circle cx="363.8" cy="799.5" r="5.3" fill="#000"/>
<circle cx="374.7" cy="799.9" r="5.3" fill="#000"/>
<circle cx="385.6" cy="800.3" r="5.3" fill="#000"/>
<circle cx="396.5" cy="800.7" r="5.3" fill="#000"/>
<circle cx="407.5" cy="800.9" r="5.3" fill="#000"/>
<circle cx="418.4" cy="800.9" r="5.3" fill="#000"/>
<g stroke="#000" stroke-width="4" fill="none">
<path d="M588.1,532.3V826.7"/>
<path d="M931.8,532.3V826.7"/>
<path d="M586.1,824.7H933.8"/>
<path d="M578.8000000000001,824.7H588.1"/>
<path d="M578.8000000000001,752.1H588.1"/>
<path d="M578.8000000000001,679.5H588.1"/>
<path d="M578.8000000000001,606.9H588.1"/>
<path d="M578.8000000000001,534.3H588.1"/>
<path d="M931.8,824.7h9.3"/>
<path d="M931.8,766.6h9.3"/>
<path d="M931.8,708.5h9.3"/>
<path d="M931.8,650.5h9.3"/>
<path d="M931.8,592.4h9.3"/>
<path d="M931.8,534.3h9.3"/>
<path d="M588.1,824.7v10"/>
<path d="M702.7,824.7v10"/>
<path d="M817.2,824.7v10"/>
<path d="M931.8,824.7v10"/>
</g>
<text x="576.6" y="830.3" font-size="20.8" text-anchor="end" fill="#000" >0</text>
<text x="576.6" y="757.7" font-size="20.8" text-anchor="end" fill="#000" >2</text>
<text x="576.6" y="685.1" font-size="20.8" text-anchor="end" fill="#000" >4</text>
<text x="576.6" y="612.5" font-size="20.8" text-anchor="end" fill="#000" >6</text>
<text x="576.6" y="539.9" font-size="20.8" text-anchor="end" fill="#000" >8</text>
<text x="946.8" y="830.4" font-size="20.8" text-anchor="start" fill="#000" >0.00</text>
<text x="946.8" y="772.3" font-size="20.8" text-anchor="start" fill="#000" >0.05</text>
<text x="946.8" y="714.2" font-size="20.8" text-anchor="start" fill="#000" >0.10</text>
<text x="946.8" y="656.2" font-size="20.8" text-anchor="start" fill="#000" >0.15</text>
<text x="946.8" y="598.1" font-size="20.8" text-anchor="start" fill="#000" >0.20</text>
<text x="946.8" y="540.0" font-size="20.8" text-anchor="start" fill="#000" >0.25</text>
<text x="587.7" y="855.7" font-size="20.8" text-anchor="middle" fill="#000" >0</text>
<text x="702.3" y="855.7" font-size="20.8" text-anchor="middle" fill="#000" >500</text>
<text x="816.8" y="855.7" font-size="20.8" text-anchor="middle" fill="#000" >1000</text>
<text x="931.4" y="855.7" font-size="20.8" text-anchor="middle" fill="#000" >1500</text>
<text x="766.8" y="470.6" font-size="22.7" text-anchor="middle" fill="#000" letter-spacing="0.4">Dissolved Oxygen</text>
<text x="765.7" y="499.1" font-size="22.7" text-anchor="middle" fill="#000" letter-spacing="0.4">in the Dual Condition Device</text>
<text x="760.5" y="886.9" font-size="19.3" text-anchor="middle" letter-spacing="0.78">Distance from membrane (<tspan style="font-weight:normal">&#956;</tspan>m)</text>
<text transform="translate(527.7,681) rotate(-90) scale(1,1.08)" font-size="19" text-anchor="middle" letter-spacing="0.85">Dissolved Oxygen in</text>
<text transform="translate(551,678) rotate(-90) scale(1,1.08)" font-size="19" text-anchor="middle" letter-spacing="0.95">Culture Media at 37C (mg/L)</text>
<text transform="translate(1034.8,680.2) rotate(90) scale(1,1.08)" font-size="19" text-anchor="middle" letter-spacing="0.85">Dissolved Oxygen in</text>
<text transform="translate(1010.7,677.6) rotate(90) scale(1,1.08)" font-size="19" text-anchor="middle" letter-spacing="0.95">Culture Media at 37C (mmol/L)</text>
<path d="M648.9,778.8h16.4M648.9,808.9h16.4M694.3,730.1h16.4M694.3,764.3h16.4M774.3,646.3h16.4M774.3,671.0h16.4M854.9,615.1h16.4M854.9,630.0h16.4M854.9,604.9h16.4M854.9,617.6h16.4" stroke="#000" stroke-width="5.4" fill="none"/>
<path d="M656.8,777.9V809.8M702.2,729.2V765.2M782.2,645.4V671.9M862.8,614.2V630.9M862.8,604.0V618.5" stroke="#000" stroke-width="5.6" fill="none"/>
<circle cx="588.1" cy="822.2" r="6.8" fill="#0f0cfb"/>
<circle cx="599.6" cy="817.8" r="6.8" fill="#0f0cfb"/>
<circle cx="611.0" cy="815.3" r="6.8" fill="#0f0cfb"/>
<circle cx="633.9" cy="805.1" r="6.8" fill="#0f0cfb"/>
<circle cx="656.8" cy="794.6" r="6.8" fill="#0f0cfb"/>
<circle cx="702.2" cy="747.4" r="6.8" fill="#0f0cfb"/>
<circle cx="782.2" cy="658.8" r="6.8" fill="#0f0cfb"/>
<circle cx="862.8" cy="622.9" r="6.8" fill="#0f0cfb"/>
<circle cx="588.1" cy="572.1" r="6.45" fill="#ffff0a" stroke="#000" stroke-width="4.9"/>
<circle cx="599.6" cy="571.7" r="6.45" fill="#ffff0a" stroke="#000" stroke-width="4.9"/>
<circle cx="611.0" cy="571.7" r="6.45" fill="#ffff0a" stroke="#000" stroke-width="4.9"/>
<circle cx="633.9" cy="572.8" r="6.45" fill="#ffff0a" stroke="#000" stroke-width="4.9"/>
<circle cx="656.8" cy="573.1" r="6.45" fill="#ffff0a" stroke="#000" stroke-width="4.9"/>
<circle cx="702.2" cy="576.8" r="6.45" fill="#ffff0a" stroke="#000" stroke-width="4.9"/>
<circle cx="782.2" cy="586.2" r="6.45" fill="#ffff0a" stroke="#000" stroke-width="4.9"/>
<circle cx="862.8" cy="611.3" r="6.45" fill="#ffff0a" stroke="#000" stroke-width="4.9"/>
<circle cx="759.3" cy="748.4" r="6.45" fill="#ffff0a" stroke="#000" stroke-width="4.9"/>
<circle cx="757.7" cy="783" r="6.8" fill="#0f0cfb"/>
<text x="795.3" y="754.4" font-size="15.2" text-anchor="start" fill="#000" letter-spacing="0.42">Normoxic Region</text>
<text x="794.3" y="789.3" font-size="15.2" text-anchor="start" fill="#000" letter-spacing="0.42">Hypoxic Region</text>
<text x="8.9" y="19.2" font-size="27.8" text-anchor="start" fill="#000" >A</text>
<text x="534.8" y="18.8" font-size="28.2" text-anchor="start" fill="#000" >B</text>
<text x="17.6" y="563" font-size="27" text-anchor="start" fill="#000" >C</text>
<text x="562" y="470.6" font-size="25.8" text-anchor="start" fill="#000" >D</text>
</svg>
</body></html>
